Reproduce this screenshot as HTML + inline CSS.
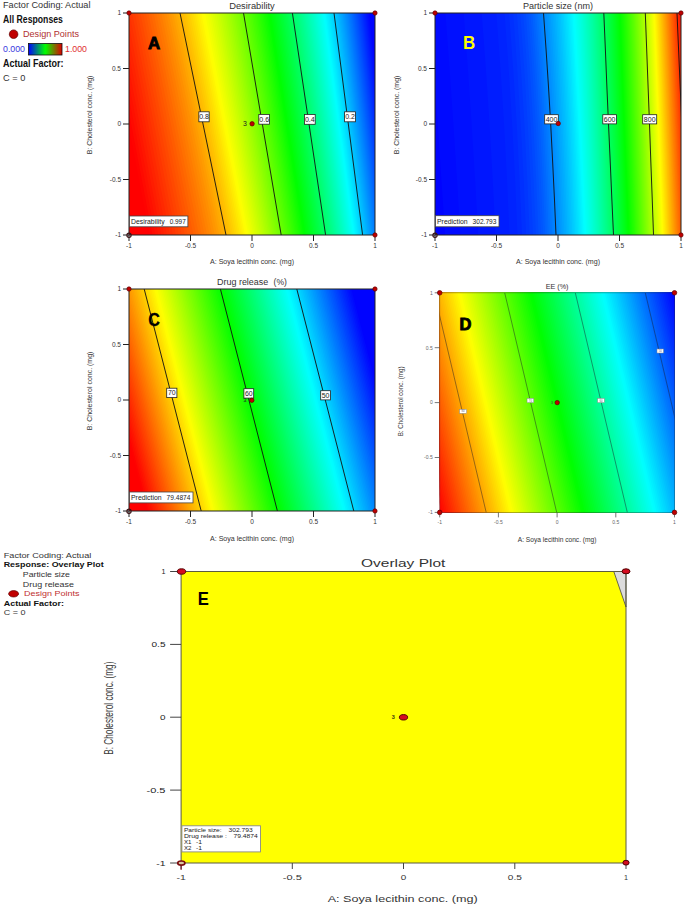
<!DOCTYPE html>
<html><head><meta charset="utf-8"><title>Contour plots</title>
<style>html,body{margin:0;padding:0;background:#fff;}svg{display:block;}text{font-family:"Liberation Sans",sans-serif;}</style>
</head><body>
<svg width="685" height="908" viewBox="0 0 685 908">
<rect width="685" height="908" fill="#fff"/>
<defs><linearGradient id="lg" x1="0" x2="1" y1="0" y2="0"><stop offset="0" stop-color="#0000ff"/><stop offset="0.5" stop-color="#00ff00"/><stop offset="1" stop-color="#e00000"/></linearGradient></defs>
<text x="3" y="7.5" font-size="9" text-anchor="start" fill="#333" textLength="87.5" lengthAdjust="spacingAndGlyphs" >Factor Coding: Actual</text>
<text x="3.1" y="23.2" font-size="10" text-anchor="start" fill="#111" font-weight="bold" textLength="59.8" lengthAdjust="spacingAndGlyphs" >All Responses</text>
<ellipse cx="13.6" cy="34.2" rx="4.3" ry="4.3" fill="#c00000" stroke="#600000" stroke-width="0.7"/>
<text x="23" y="37.3" font-size="9" text-anchor="start" fill="#b03030" textLength="56" lengthAdjust="spacingAndGlyphs" >Design Points</text>
<text x="3" y="52" font-size="8.5" text-anchor="start" fill="#3838e0" textLength="22" lengthAdjust="spacingAndGlyphs" >0.000</text>
<rect x="28.5" y="43.5" width="33.5" height="11.5" fill="url(#lg)" stroke="#111" stroke-width="0.8"/>
<text x="65" y="52" font-size="8.5" text-anchor="start" fill="#e03030" textLength="22" lengthAdjust="spacingAndGlyphs" >1.000</text>
<text x="3.1" y="67.4" font-size="10" text-anchor="start" fill="#111" font-weight="bold" textLength="60.5" lengthAdjust="spacingAndGlyphs" >Actual Factor:</text>
<text x="3" y="81.3" font-size="9" text-anchor="start" fill="#333" textLength="22.3" lengthAdjust="spacingAndGlyphs" >C = 0</text>
<clipPath id="cpA"><rect x="129" y="13" width="246" height="222"/></clipPath>
<g clip-path="url(#cpA)">
<rect x="129" y="13" width="246" height="222" fill="#ff0000"/>
<path d="M106.9 12L117.7 68L128.4 124L139.1 180L149.9 236L378 236L378 12Z" fill="#ff0300"/>
<path d="M109.7 12L120.4 68L131.2 124L141.9 180L152.6 236L378 236L378 12Z" fill="#ff0a00"/>
<path d="M112.5 12L123.2 68L134 124L144.7 180L155.5 236L378 236L378 12Z" fill="#ff1000"/>
<path d="M115.3 12L126 68L136.8 124L147.6 180L158.4 236L378 236L378 12Z" fill="#ff1600"/>
<path d="M118 12L128.8 68L139.6 124L150.4 180L161.3 236L378 236L378 12Z" fill="#ff1d00"/>
<path d="M120.8 12L131.7 68L142.5 124L153.3 180L164.2 236L378 236L378 12Z" fill="#ff2300"/>
<path d="M123.6 12L134.5 68L145.4 124L156.2 180L167.1 236L378 236L378 12Z" fill="#ff2900"/>
<path d="M126.4 12L137.3 68L148.2 124L159.2 180L170.1 236L378 236L378 12Z" fill="#ff3000"/>
<path d="M129.2 12L140.1 68L151.1 124L162.1 180L173 236L378 236L378 12Z" fill="#ff3600"/>
<path d="M131.9 12L142.9 68L154 124L165 180L176 236L378 236L378 12Z" fill="#ff3d00"/>
<path d="M134.7 12L145.7 68L156.8 124L167.9 180L179 236L378 236L378 12Z" fill="#ff4300"/>
<path d="M137.4 12L148.5 68L159.7 124L170.8 180L181.9 236L378 236L378 12Z" fill="#ff4900"/>
<path d="M140.1 12L151.3 68L162.5 124L173.7 180L184.9 236L378 236L378 12Z" fill="#ff5000"/>
<path d="M142.8 12L154.1 68L165.3 124L176.6 180L187.8 236L378 236L378 12Z" fill="#ff5600"/>
<path d="M145.5 12L156.8 68L168.1 124L179.4 180L190.7 236L378 236L378 12Z" fill="#ff5c00"/>
<path d="M148.1 12L159.5 68L170.9 124L182.2 180L193.6 236L378 236L378 12Z" fill="#ff6300"/>
<path d="M150.8 12L162.2 68L173.6 124L185 180L196.4 236L378 236L378 12Z" fill="#ff6900"/>
<path d="M153.4 12L164.8 68L176.3 124L187.8 180L199.2 236L378 236L378 12Z" fill="#ff7000"/>
<path d="M155.9 12L167.4 68L179 124L190.5 180L202 236L378 236L378 12Z" fill="#ff7600"/>
<path d="M158.5 12L170 68L181.6 124L193.1 180L204.7 236L378 236L378 12Z" fill="#ff7c00"/>
<path d="M161 12L172.6 68L184.2 124L195.7 180L207.3 236L378 236L378 12Z" fill="#ff8300"/>
<path d="M163.4 12L175.1 68L186.7 124L198.3 180L209.9 236L378 236L378 12Z" fill="#ff8900"/>
<path d="M165.9 12L177.5 68L189.1 124L200.8 180L212.4 236L378 236L378 12Z" fill="#ff8f00"/>
<path d="M168.2 12L179.9 68L191.6 124L203.2 180L214.9 236L378 236L378 12Z" fill="#ff9600"/>
<path d="M170.6 12L182.2 68L193.9 124L205.6 180L217.3 236L378 236L378 12Z" fill="#ff9c00"/>
<path d="M172.9 12L184.5 68L196.2 124L207.9 180L219.5 236L378 236L378 12Z" fill="#ffa300"/>
<path d="M175.1 12L186.8 68L198.4 124L210.1 180L221.7 236L378 236L378 12Z" fill="#ffa900"/>
<path d="M177.3 12L188.9 68L200.6 124L212.2 180L223.8 236L378 236L378 12Z" fill="#ffaf00"/>
<path d="M179.4 12L191 68L202.6 124L214.2 180L225.9 236L378 236L378 12Z" fill="#ffb600"/>
<path d="M181.5 12L193.1 68L204.6 124L216.2 180L227.8 236L378 236L378 12Z" fill="#ffbc00"/>
<path d="M183.6 12L195.1 68L206.6 124L218.1 180L229.7 236L378 236L378 12Z" fill="#ffc200"/>
<path d="M185.6 12L197.1 68L208.6 124L220 180L231.5 236L378 236L378 12Z" fill="#ffc900"/>
<path d="M187.6 12L199 68L210.5 124L221.9 180L233.3 236L378 236L378 12Z" fill="#ffcf00"/>
<path d="M189.6 12L201 68L212.4 124L223.7 180L235.1 236L378 236L378 12Z" fill="#ffd600"/>
<path d="M191.6 12L202.9 68L214.2 124L225.5 180L236.9 236L378 236L378 12Z" fill="#ffdc00"/>
<path d="M193.5 12L204.8 68L216.1 124L227.3 180L238.6 236L378 236L378 12Z" fill="#ffe200"/>
<path d="M195.4 12L206.6 68L217.9 124L229.1 180L240.3 236L378 236L378 12Z" fill="#ffe900"/>
<path d="M197.3 12L208.5 68L219.6 124L230.8 180L242 236L378 236L378 12Z" fill="#ffef00"/>
<path d="M199.2 12L210.3 68L221.4 124L232.5 180L243.6 236L378 236L378 12Z" fill="#fff500"/>
<path d="M201.1 12L212.1 68L223.1 124L234.2 180L245.2 236L378 236L378 12Z" fill="#fffc00"/>
<path d="M202.9 12L213.9 68L224.9 124L235.8 180L246.8 236L378 236L378 12Z" fill="#fcff00"/>
<path d="M204.8 12L215.8 68L226.7 124L237.6 180L248.5 236L378 236L378 12Z" fill="#f5ff00"/>
<path d="M206.8 12L217.6 68L228.4 124L239.3 180L250.1 236L378 236L378 12Z" fill="#efff00"/>
<path d="M208.7 12L219.4 68L230.2 124L241 180L251.8 236L378 236L378 12Z" fill="#e9ff00"/>
<path d="M210.5 12L221.2 68L231.9 124L242.7 180L253.4 236L378 236L378 12Z" fill="#e2ff00"/>
<path d="M212.4 12L223 68L233.7 124L244.3 180L254.9 236L378 236L378 12Z" fill="#dcff00"/>
<path d="M214.2 12L224.8 68L235.4 124L245.9 180L256.5 236L378 236L378 12Z" fill="#d6ff00"/>
<path d="M216.1 12L226.6 68L237.1 124L247.5 180L258 236L378 236L378 12Z" fill="#cfff00"/>
<path d="M217.9 12L228.3 68L238.7 124L249.1 180L259.6 236L378 236L378 12Z" fill="#c9ff00"/>
<path d="M219.7 12L230 68L240.4 124L250.7 180L261.1 236L378 236L378 12Z" fill="#c2ff00"/>
<path d="M221.4 12L231.7 68L242 124L252.3 180L262.6 236L378 236L378 12Z" fill="#bcff00"/>
<path d="M223.2 12L233.4 68L243.6 124L253.8 180L264.1 236L378 236L378 12Z" fill="#b6ff00"/>
<path d="M225 12L235.1 68L245.2 124L255.4 180L265.5 236L378 236L378 12Z" fill="#afff00"/>
<path d="M226.7 12L236.8 68L246.8 124L256.9 180L267 236L378 236L378 12Z" fill="#a9ff00"/>
<path d="M228.4 12L238.4 68L248.4 124L258.4 180L268.5 236L378 236L378 12Z" fill="#a3ff00"/>
<path d="M230.1 12L240.1 68L250 124L260 180L269.9 236L378 236L378 12Z" fill="#9cff00"/>
<path d="M231.8 12L241.7 68L251.6 124L261.5 180L271.3 236L378 236L378 12Z" fill="#96ff00"/>
<path d="M233.5 12L243.3 68L253.1 124L263 180L272.8 236L378 236L378 12Z" fill="#8fff00"/>
<path d="M235.1 12L244.9 68L254.7 124L264.4 180L274.2 236L378 236L378 12Z" fill="#89ff00"/>
<path d="M236.8 12L246.5 68L256.2 124L265.9 180L275.7 236L378 236L378 12Z" fill="#83ff00"/>
<path d="M238.5 12L248.1 68L257.8 124L267.4 180L277.1 236L378 236L378 12Z" fill="#7cff00"/>
<path d="M240.1 12L249.7 68L259.3 124L268.9 180L278.5 236L378 236L378 12Z" fill="#76ff00"/>
<path d="M241.7 12L251.3 68L260.8 124L270.4 180L280 236L378 236L378 12Z" fill="#70ff00"/>
<path d="M243.4 12L252.9 68L262.4 124L271.9 180L281.4 236L378 236L378 12Z" fill="#69ff00"/>
<path d="M245 12L254.4 68L263.9 124L273.4 180L282.8 236L378 236L378 12Z" fill="#63ff00"/>
<path d="M246.6 12L256 68L265.4 124L274.8 180L284.3 236L378 236L378 12Z" fill="#5cff00"/>
<path d="M248.2 12L257.5 68L266.9 124L276.3 180L285.7 236L378 236L378 12Z" fill="#56ff00"/>
<path d="M249.7 12L259.1 68L268.4 124L277.8 180L287.1 236L378 236L378 12Z" fill="#50ff00"/>
<path d="M251.3 12L260.6 68L269.9 124L279.2 180L288.5 236L378 236L378 12Z" fill="#49ff00"/>
<path d="M252.8 12L262.1 68L271.4 124L280.6 180L289.9 236L378 236L378 12Z" fill="#43ff00"/>
<path d="M254.4 12L263.6 68L272.8 124L282.1 180L291.3 236L378 236L378 12Z" fill="#3dff00"/>
<path d="M255.9 12L265.1 68L274.3 124L283.5 180L292.7 236L378 236L378 12Z" fill="#36ff00"/>
<path d="M257.4 12L266.6 68L275.7 124L284.9 180L294 236L378 236L378 12Z" fill="#30ff00"/>
<path d="M258.9 12L268 68L277.1 124L286.3 180L295.4 236L378 236L378 12Z" fill="#29ff00"/>
<path d="M260.4 12L269.5 68L278.6 124L287.6 180L296.7 236L378 236L378 12Z" fill="#23ff00"/>
<path d="M261.9 12L270.9 68L280 124L289 180L298.1 236L378 236L378 12Z" fill="#1dff00"/>
<path d="M263.3 12L272.3 68L281.4 124L290.4 180L299.4 236L378 236L378 12Z" fill="#16ff00"/>
<path d="M264.8 12L273.8 68L282.8 124L291.7 180L300.7 236L378 236L378 12Z" fill="#10ff00"/>
<path d="M266.2 12L275.2 68L284.1 124L293.1 180L302.1 236L378 236L378 12Z" fill="#0aff00"/>
<path d="M267.7 12L276.6 68L285.5 124L294.4 180L303.4 236L378 236L378 12Z" fill="#03ff00"/>
<path d="M269.1 12L278 68L286.9 124L295.8 180L304.7 236L378 236L378 12Z" fill="#00ff03"/>
<path d="M270.6 12L279.4 68L288.3 124L297.2 180L306 236L378 236L378 12Z" fill="#00ff0a"/>
<path d="M272.1 12L280.9 68L289.7 124L298.6 180L307.4 236L378 236L378 12Z" fill="#00ff10"/>
<path d="M273.6 12L282.4 68L291.2 124L300 180L308.8 236L378 236L378 12Z" fill="#00ff16"/>
<path d="M275 12L283.8 68L292.6 124L301.4 180L310.1 236L378 236L378 12Z" fill="#00ff1d"/>
<path d="M276.5 12L285.2 68L294 124L302.7 180L311.5 236L378 236L378 12Z" fill="#00ff23"/>
<path d="M278 12L286.7 68L295.4 124L304.1 180L312.8 236L378 236L378 12Z" fill="#00ff29"/>
<path d="M279.4 12L288.1 68L296.8 124L305.5 180L314.1 236L378 236L378 12Z" fill="#00ff30"/>
<path d="M280.9 12L289.5 68L298.2 124L306.8 180L315.4 236L378 236L378 12Z" fill="#00ff36"/>
<path d="M282.3 12L290.9 68L299.5 124L308.1 180L316.8 236L378 236L378 12Z" fill="#00ff3d"/>
<path d="M283.7 12L292.3 68L300.9 124L309.5 180L318.1 236L378 236L378 12Z" fill="#00ff43"/>
<path d="M285.2 12L293.7 68L302.3 124L310.8 180L319.4 236L378 236L378 12Z" fill="#00ff49"/>
<path d="M286.6 12L295.1 68L303.6 124L312.1 180L320.7 236L378 236L378 12Z" fill="#00ff50"/>
<path d="M288 12L296.5 68L305 124L313.5 180L321.9 236L378 236L378 12Z" fill="#00ff56"/>
<path d="M289.4 12L297.9 68L306.3 124L314.8 180L323.2 236L378 236L378 12Z" fill="#00ff5c"/>
<path d="M290.8 12L299.3 68L307.7 124L316.1 180L324.5 236L378 236L378 12Z" fill="#00ff63"/>
<path d="M292.3 12L300.6 68L309 124L317.4 180L325.7 236L378 236L378 12Z" fill="#00ff69"/>
<path d="M293.7 12L302 68L310.3 124L318.7 180L327 236L378 236L378 12Z" fill="#00ff70"/>
<path d="M295 12L303.3 68L311.7 124L320 180L328.3 236L378 236L378 12Z" fill="#00ff76"/>
<path d="M296.4 12L304.7 68L313 124L321.2 180L329.5 236L378 236L378 12Z" fill="#00ff7c"/>
<path d="M297.8 12L306 68L314.3 124L322.5 180L330.7 236L378 236L378 12Z" fill="#00ff83"/>
<path d="M299.2 12L307.4 68L315.6 124L323.8 180L332 236L378 236L378 12Z" fill="#00ff89"/>
<path d="M300.6 12L308.7 68L316.9 124L325 180L333.2 236L378 236L378 12Z" fill="#00ff8f"/>
<path d="M301.9 12L310 68L318.2 124L326.3 180L334.4 236L378 236L378 12Z" fill="#00ff96"/>
<path d="M303.3 12L311.4 68L319.4 124L327.5 180L335.6 236L378 236L378 12Z" fill="#00ff9c"/>
<path d="M304.6 12L312.7 68L320.7 124L328.8 180L336.8 236L378 236L378 12Z" fill="#00ffa3"/>
<path d="M306 12L314 68L322 124L330 180L338 236L378 236L378 12Z" fill="#00ffa9"/>
<path d="M307.3 12L315.3 68L323.2 124L331.2 180L339.2 236L378 236L378 12Z" fill="#00ffaf"/>
<path d="M308.6 12L316.6 68L324.5 124L332.4 180L340.4 236L378 236L378 12Z" fill="#00ffb6"/>
<path d="M309.9 12L317.8 68L325.7 124L333.6 180L341.6 236L378 236L378 12Z" fill="#00ffbc"/>
<path d="M311.2 12L319.1 68L327 124L334.9 180L342.7 236L378 236L378 12Z" fill="#00ffc2"/>
<path d="M312.6 12L320.4 68L328.2 124L336.1 180L343.9 236L378 236L378 12Z" fill="#00ffc9"/>
<path d="M313.9 12L321.7 68L329.4 124L337.2 180L345 236L378 236L378 12Z" fill="#00ffcf"/>
<path d="M315.2 12L322.9 68L330.7 124L338.4 180L346.2 236L378 236L378 12Z" fill="#00ffd6"/>
<path d="M316.4 12L324.2 68L331.9 124L339.6 180L347.3 236L378 236L378 12Z" fill="#00ffdc"/>
<path d="M317.7 12L325.4 68L333.1 124L340.8 180L348.5 236L378 236L378 12Z" fill="#00ffe2"/>
<path d="M319 12L326.6 68L334.3 124L342 180L349.6 236L378 236L378 12Z" fill="#00ffe9"/>
<path d="M320.3 12L327.9 68L335.5 124L343.1 180L350.7 236L378 236L378 12Z" fill="#00ffef"/>
<path d="M321.5 12L329.1 68L336.7 124L344.3 180L351.8 236L378 236L378 12Z" fill="#00fff5"/>
<path d="M322.8 12L330.3 68L337.9 124L345.4 180L353 236L378 236L378 12Z" fill="#00fffc"/>
<path d="M324 12L331.6 68L339.1 124L346.6 180L354.1 236L378 236L378 12Z" fill="#00fcff"/>
<path d="M325.3 12L332.8 68L340.2 124L347.7 180L355.2 236L378 236L378 12Z" fill="#00f5ff"/>
<path d="M326.5 12L334 68L341.4 124L348.8 180L356.3 236L378 236L378 12Z" fill="#00efff"/>
<path d="M327.8 12L335.2 68L342.6 124L350 180L357.4 236L378 236L378 12Z" fill="#00e9ff"/>
<path d="M329 12L336.4 68L343.7 124L351.1 180L358.4 236L378 236L378 12Z" fill="#00e2ff"/>
<path d="M330.2 12L337.6 68L344.9 124L352.2 180L359.5 236L378 236L378 12Z" fill="#00dcff"/>
<path d="M331.4 12L338.7 68L346 124L353.3 180L360.6 236L378 236L378 12Z" fill="#00d6ff"/>
<path d="M332.7 12L339.9 68L347.2 124L354.4 180L361.7 236L378 236L378 12Z" fill="#00cfff"/>
<path d="M333.9 12L341.1 68L348.3 124L355.5 180L362.7 236L378 236L378 12Z" fill="#00c9ff"/>
<path d="M335.1 12L342.3 68L349.4 124L356.6 180L363.8 236L378 236L378 12Z" fill="#00c2ff"/>
<path d="M336.3 12L343.4 68L350.6 124L357.7 180L364.8 236L378 236L378 12Z" fill="#00bcff"/>
<path d="M337.5 12L344.6 68L351.7 124L358.8 180L365.9 236L378 236L378 12Z" fill="#00b6ff"/>
<path d="M338.7 12L345.7 68L352.8 124L359.9 180L366.9 236L378 236L378 12Z" fill="#00afff"/>
<path d="M339.9 12L346.9 68L353.9 124L360.9 180L368 236L378 236L378 12Z" fill="#00a9ff"/>
<path d="M341 12L348 68L355 124L362 180L369 236L378 236L378 12Z" fill="#00a3ff"/>
<path d="M342.2 12L349.2 68L356.1 124L363.1 180L370 236L378 236L378 12Z" fill="#009cff"/>
<path d="M343.4 12L350.3 68L357.2 124L364.2 180L371.1 236L378 236L378 12Z" fill="#0096ff"/>
<path d="M344.6 12L351.4 68L358.3 124L365.2 180L372.1 236L378 236L378 12Z" fill="#008fff"/>
<path d="M345.7 12L352.6 68L359.4 124L366.3 180L373.1 236L378 236L378 12Z" fill="#0089ff"/>
<path d="M346.9 12L353.7 68L360.5 124L367.3 180L374.1 236L378 236L378 12Z" fill="#0083ff"/>
<path d="M348 12L354.8 68L361.6 124L368.4 180L375.1 236L378 236L378 12Z" fill="#007cff"/>
<path d="M349.2 12L355.9 68L362.7 124L369.4 180L376.1 236L378 236L378 12Z" fill="#0076ff"/>
<path d="M350.3 12L357 68L363.7 124L370.4 180L377.1 236L378 236L378 12Z" fill="#0070ff"/>
<path d="M351.5 12L358.1 68L364.8 124L371.5 180L378.1 236L378 236L378 12Z" fill="#0069ff"/>
<path d="M352.6 12L359.2 68L365.9 124L372.5 180L379.1 236L378 236L378 12Z" fill="#0063ff"/>
<path d="M353.7 12L360.3 68L366.9 124L373.5 180L380.1 236L378 236L378 12Z" fill="#005cff"/>
<path d="M354.9 12L361.4 68L368 124L374.5 180L381.1 236L378 236L378 12Z" fill="#0056ff"/>
<path d="M356 12L362.5 68L369 124L375.5 180L382 236L378 236L378 12Z" fill="#0050ff"/>
<path d="M357.1 12L363.6 68L370 124L376.5 180L383 236L378 236L378 12Z" fill="#0049ff"/>
<path d="M358.2 12L364.6 68L371.1 124L377.5 180L384 236L378 236L378 12Z" fill="#0043ff"/>
<path d="M359.3 12L365.7 68L372.1 124L378.5 180L384.9 236L378 236L378 12Z" fill="#003dff"/>
<path d="M360.4 12L366.8 68L373.1 124L379.5 180L385.9 236L378 236L378 12Z" fill="#0036ff"/>
<path d="M361.5 12L367.8 68L374.1 124L380.5 180L386.8 236L378 236L378 12Z" fill="#0030ff"/>
<path d="M362.5 12L368.8 68L375.1 124L381.4 180L387.7 236L378 236L378 12Z" fill="#0029ff"/>
<path d="M363.6 12L369.9 68L376.1 124L382.4 180L388.7 236L378 236L378 12Z" fill="#0023ff"/>
<path d="M364.7 12L370.9 68L377.1 124L383.4 180L389.6 236L378 236L378 12Z" fill="#001dff"/>
<path d="M365.7 12L371.9 68L378.1 124L384.3 180L390.5 236L378 236L378 12Z" fill="#0016ff"/>
<path d="M366.8 12L372.9 68L379.1 124L385.3 180L391.4 236L378 236L378 12Z" fill="#0010ff"/>
<path d="M367.8 12L374 68L380.1 124L386.2 180L392.3 236L378 236L378 12Z" fill="#000aff"/>
<path d="M368.9 12L375 68L381 124L387.1 180L393.2 236L378 236L378 12Z" fill="#0003ff"/>
</g>
<path d="M180 13L226 235" fill="none" stroke="#111" stroke-width="0.9" clip-path="url(#cpA)"/>
<path d="M243.5 13L281.2 235" fill="none" stroke="#111" stroke-width="0.9" clip-path="url(#cpA)"/>
<path d="M292.4 13L325.6 235" fill="none" stroke="#111" stroke-width="0.9" clip-path="url(#cpA)"/>
<path d="M334 13L362.6 235" fill="none" stroke="#111" stroke-width="0.9" clip-path="url(#cpA)"/>
<rect x="129" y="13" width="246" height="222" fill="none" stroke="#222" stroke-opacity="1" stroke-width="1"/>
<line x1="129.0" y1="235" x2="129.0" y2="241" stroke="#222" stroke-width="1"/>
<text x="129" y="248.3" font-size="6.5" text-anchor="middle" fill="#333" >-1</text>
<line x1="123" y1="235.0" x2="129" y2="235.0" stroke="#222" stroke-width="1"/>
<text x="121" y="237.3" font-size="6.5" text-anchor="end" fill="#333" >-1</text>
<line x1="190.5" y1="235" x2="190.5" y2="241" stroke="#222" stroke-width="1"/>
<text x="190.5" y="248.3" font-size="6.5" text-anchor="middle" fill="#333" >-0.5</text>
<line x1="123" y1="179.5" x2="129" y2="179.5" stroke="#222" stroke-width="1"/>
<text x="121" y="181.8" font-size="6.5" text-anchor="end" fill="#333" >-0.5</text>
<line x1="252.0" y1="235" x2="252.0" y2="241" stroke="#222" stroke-width="1"/>
<text x="252" y="248.3" font-size="6.5" text-anchor="middle" fill="#333" >0</text>
<line x1="123" y1="124.0" x2="129" y2="124.0" stroke="#222" stroke-width="1"/>
<text x="121" y="126.3" font-size="6.5" text-anchor="end" fill="#333" >0</text>
<line x1="313.5" y1="235" x2="313.5" y2="241" stroke="#222" stroke-width="1"/>
<text x="313.5" y="248.3" font-size="6.5" text-anchor="middle" fill="#333" >0.5</text>
<line x1="123" y1="68.5" x2="129" y2="68.5" stroke="#222" stroke-width="1"/>
<text x="121" y="70.8" font-size="6.5" text-anchor="end" fill="#333" >0.5</text>
<line x1="375.0" y1="235" x2="375.0" y2="241" stroke="#222" stroke-width="1"/>
<text x="375" y="248.3" font-size="6.5" text-anchor="middle" fill="#333" >1</text>
<line x1="123" y1="13.0" x2="129" y2="13.0" stroke="#222" stroke-width="1"/>
<text x="121" y="15.3" font-size="6.5" text-anchor="end" fill="#333" >1</text>
<text x="252" y="264.2" font-size="7.5" text-anchor="middle" fill="#333" textLength="84" lengthAdjust="spacingAndGlyphs" >A: Soya lecithin conc. (mg)</text>
<g transform="translate(91.8,115) rotate(-90)">
<text x="0" y="0" font-size="7.5" text-anchor="middle" fill="#333" textLength="78.7" lengthAdjust="spacingAndGlyphs" >B: Cholesterol conc. (mg)</text>
</g>
<text x="252" y="8.5" font-size="8.5" text-anchor="middle" fill="#333" textLength="45.6" lengthAdjust="spacingAndGlyphs" >Desirability</text>
<rect x="198.85" y="111.8" width="10.3" height="10" fill="#fff" stroke="#222" stroke-width="0.8"/>
<text x="204" y="119.32" font-size="7" text-anchor="middle" fill="#222" >0.8</text>
<rect x="258.8" y="114.39999999999999" width="10.8" height="9.8" fill="#fff" stroke="#222" stroke-width="0.8"/>
<text x="264.2" y="121.82" font-size="7" text-anchor="middle" fill="#222" >0.6</text>
<rect x="304.40000000000003" y="114.5" width="10.8" height="9.8" fill="#fff" stroke="#222" stroke-width="0.8"/>
<text x="309.8" y="121.92" font-size="7" text-anchor="middle" fill="#222" >0.4</text>
<rect x="344.6" y="111.8" width="10.8" height="10" fill="#fff" stroke="#222" stroke-width="0.8"/>
<text x="350" y="119.32" font-size="7" text-anchor="middle" fill="#222" >0.2</text>
<ellipse cx="129" cy="13" rx="2.15" ry="2.15" fill="#c00000" stroke="#600000" stroke-width="0.7"/>
<ellipse cx="375" cy="13" rx="2.15" ry="2.15" fill="#c00000" stroke="#600000" stroke-width="0.7"/>
<ellipse cx="375" cy="235" rx="2.15" ry="2.15" fill="#c00000" stroke="#600000" stroke-width="0.7"/>
<ellipse cx="252.1" cy="123.8" rx="2.2" ry="2.2" fill="#c00000" stroke="#600000" stroke-width="0.7"/>
<text x="246.8" y="126.2" font-size="7" text-anchor="end" fill="#222" >3</text>
<rect x="129.5" y="216" width="58.4" height="10.8" fill="#fff" stroke="#444" stroke-width="0.8"/>
<text x="131" y="224.2" font-size="7.3" text-anchor="start" fill="#222" textLength="33.6" lengthAdjust="spacingAndGlyphs" >Desirability</text>
<text x="169.7" y="224.2" font-size="7.3" text-anchor="start" fill="#222" textLength="16" lengthAdjust="spacingAndGlyphs" >0.997</text>
<circle cx="129" cy="235.2" r="2.1" fill="none" stroke="#3a1518" stroke-width="1.2"/>
<text x="147.9" y="48.6" font-size="16.8" text-anchor="start" fill="#000" font-weight="bold" stroke="#000" stroke-width="0.9">A</text>
<clipPath id="cpB"><rect x="435" y="13" width="246" height="222"/></clipPath>
<g clip-path="url(#cpB)">
<rect x="435" y="13" width="246" height="222" fill="#0000ff"/>
<path d="M419.9 12L423.8 68L427.6 124L431.4 180L435.1 236L684 236L684 12Z" fill="#0003ff"/>
<path d="M429.8 12L433.8 68L437.7 124L441.4 180L445.1 236L684 236L684 12Z" fill="#000aff"/>
<path d="M445.3 12L449.5 68L453.3 124L457 180L460.4 236L684 236L684 12Z" fill="#0010ff"/>
<path d="M463.6 12L467.8 68L471.6 124L475.1 180L478.2 236L684 236L684 12Z" fill="#0016ff"/>
<path d="M481.6 12L485.8 68L489.5 124L492.7 180L495.5 236L684 236L684 12Z" fill="#001dff"/>
<path d="M496.2 12L500.4 68L504 124L507 180L509.5 236L684 236L684 12Z" fill="#0023ff"/>
<path d="M504.4 12L508.6 68L512.1 124L515.1 180L517.5 236L684 236L684 12Z" fill="#0029ff"/>
<path d="M509 12L513.1 68L516.7 124L519.6 180L522 236L684 236L684 12Z" fill="#0030ff"/>
<path d="M513.1 12L517.2 68L520.7 124L523.7 180L526.1 236L684 236L684 12Z" fill="#0036ff"/>
<path d="M516.8 12L520.9 68L524.4 124L527.3 180L529.7 236L684 236L684 12Z" fill="#003dff"/>
<path d="M520.1 12L524.2 68L527.7 124L530.6 180L533 236L684 236L684 12Z" fill="#0043ff"/>
<path d="M523.1 12L527.1 68L530.6 124L533.6 180L535.9 236L684 236L684 12Z" fill="#0049ff"/>
<path d="M525.7 12L529.8 68L533.3 124L536.2 180L538.6 236L684 236L684 12Z" fill="#0050ff"/>
<path d="M528.1 12L532.2 68L535.6 124L538.6 180L541 236L684 236L684 12Z" fill="#0056ff"/>
<path d="M530.3 12L534.3 68L537.8 124L540.8 180L543.2 236L684 236L684 12Z" fill="#005cff"/>
<path d="M532.3 12L536.3 68L539.8 124L542.8 180L545.2 236L684 236L684 12Z" fill="#0063ff"/>
<path d="M534.2 12L538.2 68L541.7 124L544.6 180L547 236L684 236L684 12Z" fill="#0069ff"/>
<path d="M536 12L540 68L543.4 124L546.4 180L548.8 236L684 236L684 12Z" fill="#0070ff"/>
<path d="M537.8 12L541.7 68L545.1 124L548.1 180L550.5 236L684 236L684 12Z" fill="#0076ff"/>
<path d="M539.5 12L543.4 68L546.8 124L549.8 180L552.2 236L684 236L684 12Z" fill="#007cff"/>
<path d="M541.2 12L545.1 68L548.5 124L551.5 180L553.9 236L684 236L684 12Z" fill="#0083ff"/>
<path d="M543 12L546.9 68L550.3 124L553.2 180L555.7 236L684 236L684 12Z" fill="#0089ff"/>
<path d="M544.9 12L548.7 68L552.1 124L555 180L557.5 236L684 236L684 12Z" fill="#008fff"/>
<path d="M546.8 12L550.6 68L553.9 124L556.8 180L559.3 236L684 236L684 12Z" fill="#0096ff"/>
<path d="M548.6 12L552.3 68L555.7 124L558.6 180L561 236L684 236L684 12Z" fill="#009cff"/>
<path d="M550.4 12L554.1 68L557.4 124L560.3 180L562.7 236L684 236L684 12Z" fill="#00a3ff"/>
<path d="M552.1 12L555.8 68L559.1 124L561.9 180L564.4 236L684 236L684 12Z" fill="#00a9ff"/>
<path d="M553.8 12L557.5 68L560.7 124L563.6 180L566.1 236L684 236L684 12Z" fill="#00afff"/>
<path d="M555.5 12L559.1 68L562.3 124L565.2 180L567.7 236L684 236L684 12Z" fill="#00b6ff"/>
<path d="M557.2 12L560.7 68L563.9 124L566.8 180L569.3 236L684 236L684 12Z" fill="#00bcff"/>
<path d="M558.8 12L562.3 68L565.5 124L568.3 180L570.8 236L684 236L684 12Z" fill="#00c2ff"/>
<path d="M560.4 12L563.9 68L567 124L569.9 180L572.4 236L684 236L684 12Z" fill="#00c9ff"/>
<path d="M562 12L565.4 68L568.6 124L571.4 180L573.9 236L684 236L684 12Z" fill="#00cfff"/>
<path d="M563.5 12L566.9 68L570 124L572.8 180L575.3 236L684 236L684 12Z" fill="#00d6ff"/>
<path d="M565 12L568.4 68L571.5 124L574.3 180L576.8 236L684 236L684 12Z" fill="#00dcff"/>
<path d="M566.5 12L569.9 68L572.9 124L575.7 180L578.2 236L684 236L684 12Z" fill="#00e2ff"/>
<path d="M568 12L571.3 68L574.3 124L577.1 180L579.6 236L684 236L684 12Z" fill="#00e9ff"/>
<path d="M569.5 12L572.7 68L575.7 124L578.5 180L581 236L684 236L684 12Z" fill="#00efff"/>
<path d="M570.9 12L574.1 68L577.1 124L579.8 180L582.3 236L684 236L684 12Z" fill="#00f5ff"/>
<path d="M572.3 12L575.4 68L578.4 124L581.1 180L583.7 236L684 236L684 12Z" fill="#00fcff"/>
<path d="M573.7 12L576.8 68L579.7 124L582.5 180L585 236L684 236L684 12Z" fill="#00fffc"/>
<path d="M575 12L578.1 68L581 124L583.7 180L586.3 236L684 236L684 12Z" fill="#00fff5"/>
<path d="M576.4 12L579.4 68L582.3 124L585 180L587.6 236L684 236L684 12Z" fill="#00ffef"/>
<path d="M577.7 12L580.7 68L583.6 124L586.3 180L588.8 236L684 236L684 12Z" fill="#00ffe9"/>
<path d="M579 12L582 68L584.8 124L587.5 180L590.1 236L684 236L684 12Z" fill="#00ffe2"/>
<path d="M580.3 12L583.2 68L586 124L588.7 180L591.3 236L684 236L684 12Z" fill="#00ffdc"/>
<path d="M581.6 12L584.5 68L587.3 124L589.9 180L592.5 236L684 236L684 12Z" fill="#00ffd6"/>
<path d="M582.8 12L585.7 68L588.5 124L591.1 180L593.7 236L684 236L684 12Z" fill="#00ffcf"/>
<path d="M584.1 12L586.9 68L589.6 124L592.3 180L594.9 236L684 236L684 12Z" fill="#00ffc9"/>
<path d="M585.3 12L588.1 68L590.8 124L593.5 180L596 236L684 236L684 12Z" fill="#00ffc2"/>
<path d="M586.5 12L589.3 68L592 124L594.6 180L597.2 236L684 236L684 12Z" fill="#00ffbc"/>
<path d="M587.7 12L590.5 68L593.1 124L595.7 180L598.3 236L684 236L684 12Z" fill="#00ffb6"/>
<path d="M588.9 12L591.6 68L594.3 124L596.9 180L599.4 236L684 236L684 12Z" fill="#00ffaf"/>
<path d="M590.1 12L592.8 68L595.4 124L598 180L600.6 236L684 236L684 12Z" fill="#00ffa9"/>
<path d="M591.3 12L593.9 68L596.5 124L599.1 180L601.7 236L684 236L684 12Z" fill="#00ffa3"/>
<path d="M592.5 12L595.1 68L597.6 124L600.2 180L602.8 236L684 236L684 12Z" fill="#00ff9c"/>
<path d="M593.6 12L596.2 68L598.8 124L601.3 180L603.9 236L684 236L684 12Z" fill="#00ff96"/>
<path d="M594.8 12L597.3 68L599.9 124L602.4 180L605 236L684 236L684 12Z" fill="#00ff8f"/>
<path d="M595.9 12L598.4 68L601 124L603.5 180L606.1 236L684 236L684 12Z" fill="#00ff89"/>
<path d="M597.1 12L599.6 68L602.1 124L604.6 180L607.2 236L684 236L684 12Z" fill="#00ff83"/>
<path d="M598.2 12L600.7 68L603.2 124L605.7 180L608.2 236L684 236L684 12Z" fill="#00ff7c"/>
<path d="M599.3 12L601.8 68L604.3 124L606.8 180L609.3 236L684 236L684 12Z" fill="#00ff76"/>
<path d="M600.5 12L602.9 68L605.3 124L607.8 180L610.4 236L684 236L684 12Z" fill="#00ff70"/>
<path d="M601.6 12L604 68L606.4 124L608.9 180L611.5 236L684 236L684 12Z" fill="#00ff69"/>
<path d="M602.7 12L605.1 68L607.5 124L610 180L612.6 236L684 236L684 12Z" fill="#00ff63"/>
<path d="M603.9 12L606.2 68L608.6 124L611.1 180L613.6 236L684 236L684 12Z" fill="#00ff5c"/>
<path d="M605 12L607.3 68L609.7 124L612.2 180L614.7 236L684 236L684 12Z" fill="#00ff56"/>
<path d="M606.1 12L608.4 68L610.8 124L613.3 180L615.8 236L684 236L684 12Z" fill="#00ff50"/>
<path d="M607.2 12L609.5 68L611.9 124L614.3 180L616.8 236L684 236L684 12Z" fill="#00ff49"/>
<path d="M608.3 12L610.6 68L612.9 124L615.4 180L617.9 236L684 236L684 12Z" fill="#00ff43"/>
<path d="M609.3 12L611.6 68L614 124L616.4 180L618.9 236L684 236L684 12Z" fill="#00ff3d"/>
<path d="M610.4 12L612.7 68L615 124L617.4 180L619.9 236L684 236L684 12Z" fill="#00ff36"/>
<path d="M611.5 12L613.7 68L616.1 124L618.5 180L620.9 236L684 236L684 12Z" fill="#00ff30"/>
<path d="M612.5 12L614.8 68L617.1 124L619.5 180L621.9 236L684 236L684 12Z" fill="#00ff29"/>
<path d="M613.6 12L615.8 68L618.1 124L620.5 180L622.9 236L684 236L684 12Z" fill="#00ff23"/>
<path d="M614.6 12L616.8 68L619.1 124L621.5 180L623.9 236L684 236L684 12Z" fill="#00ff1d"/>
<path d="M615.6 12L617.9 68L620.1 124L622.5 180L624.9 236L684 236L684 12Z" fill="#00ff16"/>
<path d="M616.6 12L618.9 68L621.1 124L623.5 180L625.9 236L684 236L684 12Z" fill="#00ff10"/>
<path d="M617.7 12L619.9 68L622.1 124L624.4 180L626.8 236L684 236L684 12Z" fill="#00ff0a"/>
<path d="M618.7 12L620.9 68L623.1 124L625.4 180L627.8 236L684 236L684 12Z" fill="#00ff03"/>
<path d="M619.6 12L621.8 68L624.1 124L626.4 180L628.7 236L684 236L684 12Z" fill="#03ff00"/>
<path d="M620.6 12L622.8 68L625 124L627.3 180L629.7 236L684 236L684 12Z" fill="#0aff00"/>
<path d="M621.6 12L623.8 68L626 124L628.3 180L630.6 236L684 236L684 12Z" fill="#10ff00"/>
<path d="M622.6 12L624.7 68L627 124L629.2 180L631.5 236L684 236L684 12Z" fill="#16ff00"/>
<path d="M623.5 12L625.7 68L627.9 124L630.1 180L632.4 236L684 236L684 12Z" fill="#1dff00"/>
<path d="M624.5 12L626.6 68L628.8 124L631.1 180L633.4 236L684 236L684 12Z" fill="#23ff00"/>
<path d="M625.4 12L627.6 68L629.8 124L632 180L634.3 236L684 236L684 12Z" fill="#29ff00"/>
<path d="M626.4 12L628.5 68L630.7 124L632.9 180L635.2 236L684 236L684 12Z" fill="#30ff00"/>
<path d="M627.3 12L629.4 68L631.6 124L633.8 180L636 236L684 236L684 12Z" fill="#36ff00"/>
<path d="M628.2 12L630.4 68L632.5 124L634.7 180L636.9 236L684 236L684 12Z" fill="#3dff00"/>
<path d="M629.2 12L631.3 68L633.4 124L635.6 180L637.8 236L684 236L684 12Z" fill="#43ff00"/>
<path d="M630.1 12L632.2 68L634.3 124L636.5 180L638.7 236L684 236L684 12Z" fill="#49ff00"/>
<path d="M631 12L633.1 68L635.2 124L637.4 180L639.6 236L684 236L684 12Z" fill="#50ff00"/>
<path d="M631.9 12L634 68L636.1 124L638.3 180L640.4 236L684 236L684 12Z" fill="#56ff00"/>
<path d="M632.8 12L634.9 68L637 124L639.2 180L641.3 236L684 236L684 12Z" fill="#5cff00"/>
<path d="M633.7 12L635.8 68L637.9 124L640 180L642.2 236L684 236L684 12Z" fill="#63ff00"/>
<path d="M634.5 12L636.7 68L638.8 124L640.9 180L643 236L684 236L684 12Z" fill="#69ff00"/>
<path d="M635.4 12L637.5 68L639.6 124L641.8 180L643.9 236L684 236L684 12Z" fill="#70ff00"/>
<path d="M636.3 12L638.4 68L640.5 124L642.6 180L644.7 236L684 236L684 12Z" fill="#76ff00"/>
<path d="M637.2 12L639.3 68L641.4 124L643.5 180L645.5 236L684 236L684 12Z" fill="#7cff00"/>
<path d="M638 12L640.1 68L642.2 124L644.3 180L646.4 236L684 236L684 12Z" fill="#83ff00"/>
<path d="M638.9 12L641 68L643.1 124L645.2 180L647.2 236L684 236L684 12Z" fill="#89ff00"/>
<path d="M639.7 12L641.8 68L643.9 124L646 180L648.1 236L684 236L684 12Z" fill="#8fff00"/>
<path d="M640.6 12L642.7 68L644.8 124L646.8 180L648.9 236L684 236L684 12Z" fill="#96ff00"/>
<path d="M641.4 12L643.5 68L645.6 124L647.7 180L649.7 236L684 236L684 12Z" fill="#9cff00"/>
<path d="M642.2 12L644.4 68L646.5 124L648.5 180L650.5 236L684 236L684 12Z" fill="#a3ff00"/>
<path d="M643.1 12L645.2 68L647.3 124L649.3 180L651.4 236L684 236L684 12Z" fill="#a9ff00"/>
<path d="M643.9 12L646 68L648.1 124L650.2 180L652.2 236L684 236L684 12Z" fill="#afff00"/>
<path d="M644.7 12L646.9 68L649 124L651 180L653 236L684 236L684 12Z" fill="#b6ff00"/>
<path d="M645.6 12L647.7 68L649.8 124L651.8 180L653.8 236L684 236L684 12Z" fill="#bcff00"/>
<path d="M646.4 12L648.5 68L650.6 124L652.6 180L654.7 236L684 236L684 12Z" fill="#c2ff00"/>
<path d="M647.2 12L649.3 68L651.4 124L653.5 180L655.5 236L684 236L684 12Z" fill="#c9ff00"/>
<path d="M648 12L650.1 68L652.2 124L654.3 180L656.3 236L684 236L684 12Z" fill="#cfff00"/>
<path d="M648.8 12L650.9 68L653 124L655.1 180L657.1 236L684 236L684 12Z" fill="#d6ff00"/>
<path d="M649.6 12L651.7 68L653.8 124L655.9 180L657.9 236L684 236L684 12Z" fill="#dcff00"/>
<path d="M650.3 12L652.5 68L654.6 124L656.7 180L658.7 236L684 236L684 12Z" fill="#e2ff00"/>
<path d="M651.1 12L653.3 68L655.4 124L657.4 180L659.4 236L684 236L684 12Z" fill="#e9ff00"/>
<path d="M651.9 12L654.1 68L656.2 124L658.2 180L660.2 236L684 236L684 12Z" fill="#efff00"/>
<path d="M652.6 12L654.8 68L656.9 124L659 180L661 236L684 236L684 12Z" fill="#f5ff00"/>
<path d="M653.4 12L655.6 68L657.7 124L659.8 180L661.8 236L684 236L684 12Z" fill="#fcff00"/>
<path d="M654.2 12L656.3 68L658.5 124L660.6 180L662.6 236L684 236L684 12Z" fill="#fffc00"/>
<path d="M654.9 12L657.1 68L659.2 124L661.3 180L663.3 236L684 236L684 12Z" fill="#fff500"/>
<path d="M655.6 12L657.8 68L660 124L662.1 180L664.1 236L684 236L684 12Z" fill="#ffef00"/>
<path d="M656.4 12L658.6 68L660.7 124L662.8 180L664.9 236L684 236L684 12Z" fill="#ffe900"/>
<path d="M657.1 12L659.3 68L661.5 124L663.6 180L665.6 236L684 236L684 12Z" fill="#ffe200"/>
<path d="M657.8 12L660.1 68L662.2 124L664.3 180L666.4 236L684 236L684 12Z" fill="#ffdc00"/>
<path d="M658.6 12L660.8 68L663 124L665.1 180L667.1 236L684 236L684 12Z" fill="#ffd600"/>
<path d="M659.3 12L661.5 68L663.7 124L665.8 180L667.9 236L684 236L684 12Z" fill="#ffcf00"/>
<path d="M660 12L662.3 68L664.4 124L666.6 180L668.6 236L684 236L684 12Z" fill="#ffc900"/>
<path d="M660.7 12L663 68L665.2 124L667.3 180L669.3 236L684 236L684 12Z" fill="#ffc200"/>
<path d="M661.4 12L663.7 68L665.9 124L668 180L670.1 236L684 236L684 12Z" fill="#ffbc00"/>
<path d="M662.1 12L664.4 68L666.6 124L668.8 180L670.8 236L684 236L684 12Z" fill="#ffb600"/>
<path d="M662.8 12L665.1 68L667.3 124L669.5 180L671.6 236L684 236L684 12Z" fill="#ffaf00"/>
<path d="M663.5 12L665.8 68L668.1 124L670.2 180L672.3 236L684 236L684 12Z" fill="#ffa900"/>
<path d="M664.2 12L666.5 68L668.8 124L670.9 180L673 236L684 236L684 12Z" fill="#ffa300"/>
<path d="M664.9 12L667.3 68L669.5 124L671.7 180L673.7 236L684 236L684 12Z" fill="#ff9c00"/>
<path d="M665.6 12L668 68L670.2 124L672.4 180L674.5 236L684 236L684 12Z" fill="#ff9600"/>
<path d="M666.3 12L668.7 68L670.9 124L673.1 180L675.2 236L684 236L684 12Z" fill="#ff8f00"/>
<path d="M667 12L669.4 68L671.6 124L673.8 180L675.9 236L684 236L684 12Z" fill="#ff8900"/>
<path d="M667.7 12L670.1 68L672.3 124L674.5 180L676.6 236L684 236L684 12Z" fill="#ff8300"/>
<path d="M668.4 12L670.8 68L673 124L675.2 180L677.3 236L684 236L684 12Z" fill="#ff7c00"/>
<path d="M669.1 12L671.5 68L673.8 124L675.9 180L678 236L684 236L684 12Z" fill="#ff7600"/>
<path d="M669.8 12L672.2 68L674.5 124L676.7 180L678.8 236L684 236L684 12Z" fill="#ff7000"/>
<path d="M670.5 12L672.9 68L675.2 124L677.4 180L679.5 236L684 236L684 12Z" fill="#ff6900"/>
<path d="M671.1 12L673.6 68L675.9 124L678.1 180L680.2 236L684 236L684 12Z" fill="#ff6300"/>
<path d="M671.8 12L674.3 68L676.6 124L678.8 180L680.9 236L684 236L684 12Z" fill="#ff5c00"/>
<path d="M672.5 12L675 68L677.3 124L679.5 180L681.6 236L684 236L684 12Z" fill="#ff5600"/>
<path d="M673.2 12L675.7 68L678 124L680.2 180L682.3 236L684 236L684 12Z" fill="#ff5000"/>
<path d="M673.9 12L676.4 68L678.7 124L680.9 180L683 236L684 236L684 12Z" fill="#ff4900"/>
<path d="M674.6 12L677.1 68L679.4 124L681.6 180L683.7 236L684 236L684 12Z" fill="#ff4300"/>
<path d="M675.3 12L677.8 68L680.1 124L682.3 180L684.4 236L684 236L684 12Z" fill="#ff3d00"/>
<path d="M676 12L678.5 68L680.8 124L683 180L685.1 236L684 236L684 12Z" fill="#ff3600"/>
<path d="M676.7 12L679.2 68L681.5 124L683.7 180L685.8 236L684 236L684 12Z" fill="#ff3000"/>
<path d="M677.4 12L679.9 68L682.2 124L684.4 180L686.5 236L684 236L684 12Z" fill="#ff2900"/>
<path d="M678.1 12L680.6 68L682.9 124L685.1 180L687.2 236L684 236L684 12Z" fill="#ff2300"/>
<path d="M678.8 12L681.3 68L683.6 124L685.8 180L687.9 236L684 236L684 12Z" fill="#ff1d00"/>
<path d="M679.5 12L682 68L684.3 124L686.5 180L688.6 236L684 236L684 12Z" fill="#ff1600"/>
<path d="M680.2 12L682.7 68L685 124L687.2 180L689.3 236L684 236L684 12Z" fill="#ff1000"/>
<path d="M680.9 12L683.4 68L685.7 124L687.9 180L689.9 236L684 236L684 12Z" fill="#ff0a00"/>
<path d="M681.6 12L684.1 68L686.4 124L688.6 180L690.6 236L684 236L684 12Z" fill="#ff0300"/>
</g>
<path d="M543.5 13L546.1 50L548.5 87L550.7 124L552.6 161L554.4 198L556 235" fill="none" stroke="#111" stroke-width="0.9" clip-path="url(#cpB)"/>
<path d="M603.8 13L605.4 50L606.9 87L608.5 124L610.2 161L611.8 198L613.5 235" fill="none" stroke="#111" stroke-width="0.9" clip-path="url(#cpB)"/>
<path d="M645.3 13L646.7 50L648.1 87L649.5 124L650.8 161L652.2 198L653.5 235" fill="none" stroke="#111" stroke-width="0.9" clip-path="url(#cpB)"/>
<path d="M677 13L678.6 50L680.2 87L681.8 124L683.2 161L684.6 198L686 235" fill="none" stroke="#111" stroke-width="0.9" clip-path="url(#cpB)"/>
<rect x="435" y="13" width="246" height="222" fill="none" stroke="#222" stroke-opacity="1" stroke-width="1"/>
<line x1="435.0" y1="235" x2="435.0" y2="241" stroke="#222" stroke-width="1"/>
<text x="435" y="248.3" font-size="6.5" text-anchor="middle" fill="#333" >-1</text>
<line x1="429" y1="235.0" x2="435" y2="235.0" stroke="#222" stroke-width="1"/>
<text x="427" y="237.3" font-size="6.5" text-anchor="end" fill="#333" >-1</text>
<line x1="496.5" y1="235" x2="496.5" y2="241" stroke="#222" stroke-width="1"/>
<text x="496.5" y="248.3" font-size="6.5" text-anchor="middle" fill="#333" >-0.5</text>
<line x1="429" y1="179.5" x2="435" y2="179.5" stroke="#222" stroke-width="1"/>
<text x="427" y="181.8" font-size="6.5" text-anchor="end" fill="#333" >-0.5</text>
<line x1="558.0" y1="235" x2="558.0" y2="241" stroke="#222" stroke-width="1"/>
<text x="558" y="248.3" font-size="6.5" text-anchor="middle" fill="#333" >0</text>
<line x1="429" y1="124.0" x2="435" y2="124.0" stroke="#222" stroke-width="1"/>
<text x="427" y="126.3" font-size="6.5" text-anchor="end" fill="#333" >0</text>
<line x1="619.5" y1="235" x2="619.5" y2="241" stroke="#222" stroke-width="1"/>
<text x="619.5" y="248.3" font-size="6.5" text-anchor="middle" fill="#333" >0.5</text>
<line x1="429" y1="68.5" x2="435" y2="68.5" stroke="#222" stroke-width="1"/>
<text x="427" y="70.8" font-size="6.5" text-anchor="end" fill="#333" >0.5</text>
<line x1="681.0" y1="235" x2="681.0" y2="241" stroke="#222" stroke-width="1"/>
<text x="681" y="248.3" font-size="6.5" text-anchor="middle" fill="#333" >1</text>
<line x1="429" y1="13.0" x2="435" y2="13.0" stroke="#222" stroke-width="1"/>
<text x="427" y="15.3" font-size="6.5" text-anchor="end" fill="#333" >1</text>
<text x="558" y="264.2" font-size="7.5" text-anchor="middle" fill="#333" textLength="84" lengthAdjust="spacingAndGlyphs" >A: Soya lecithin conc. (mg)</text>
<g transform="translate(398.5,115) rotate(-90)">
<text x="0" y="0" font-size="7.5" text-anchor="middle" fill="#333" textLength="78.7" lengthAdjust="spacingAndGlyphs" >B: Cholesterol conc. (mg)</text>
</g>
<text x="558" y="8.5" font-size="8.5" text-anchor="middle" fill="#333" textLength="70" lengthAdjust="spacingAndGlyphs" >Particle size (nm)</text>
<rect x="544.7" y="114.7" width="13.6" height="9.2" fill="#fff" stroke="#222" stroke-width="0.8"/>
<text x="551.5" y="121.82" font-size="7" text-anchor="middle" fill="#222" >400</text>
<rect x="602.8000000000001" y="114.7" width="13.6" height="9.2" fill="#fff" stroke="#222" stroke-width="0.8"/>
<text x="609.6" y="121.82" font-size="7" text-anchor="middle" fill="#222" >600</text>
<rect x="642.7" y="114.7" width="14" height="9.2" fill="#fff" stroke="#222" stroke-width="0.8"/>
<text x="649.7" y="121.82" font-size="7" text-anchor="middle" fill="#222" >800</text>
<ellipse cx="435" cy="13" rx="2.15" ry="2.15" fill="#c00000" stroke="#600000" stroke-width="0.7"/>
<ellipse cx="681" cy="13" rx="2.15" ry="2.15" fill="#c00000" stroke="#600000" stroke-width="0.7"/>
<ellipse cx="681" cy="235" rx="2.15" ry="2.15" fill="#c00000" stroke="#600000" stroke-width="0.7"/>
<ellipse cx="558.2" cy="123.5" rx="2.2" ry="2.2" fill="#c00000" stroke="#600000" stroke-width="0.7"/>
<rect x="435.5" y="215.7" width="63.5" height="11.1" fill="#fff" stroke="#444" stroke-width="0.8"/>
<text x="437" y="224.2" font-size="7.3" text-anchor="start" fill="#222" textLength="30.6" lengthAdjust="spacingAndGlyphs" >Prediction</text>
<text x="472.6" y="224.2" font-size="7.3" text-anchor="start" fill="#222" textLength="23.8" lengthAdjust="spacingAndGlyphs" >302.793</text>
<circle cx="435" cy="235.2" r="2.1" fill="none" stroke="#3a1518" stroke-width="1.2"/>
<text x="463" y="49.1" font-size="19" text-anchor="start" fill="#ffff00" font-weight="bold" textLength="12.2" lengthAdjust="spacingAndGlyphs" >B</text>
<clipPath id="cpC"><rect x="129" y="289" width="246" height="222"/></clipPath>
<g clip-path="url(#cpC)">
<rect x="129" y="289" width="246" height="222" fill="#ff0000"/>
<path d="M89.7 288L104.1 344L118.5 400L132.9 456L147.3 512L378 512L378 288Z" fill="#ff0300"/>
<path d="M91.4 288L105.8 344L120.1 400L134.5 456L148.9 512L378 512L378 288Z" fill="#ff0a00"/>
<path d="M93 288L107.4 344L121.8 400L136.2 456L150.5 512L378 512L378 288Z" fill="#ff1000"/>
<path d="M94.7 288L109.1 344L123.4 400L137.8 456L152.2 512L378 512L378 288Z" fill="#ff1600"/>
<path d="M96.3 288L110.7 344L125.1 400L139.5 456L153.8 512L378 512L378 288Z" fill="#ff1d00"/>
<path d="M98 288L112.3 344L126.7 400L141.1 456L155.5 512L378 512L378 288Z" fill="#ff2300"/>
<path d="M99.6 288L114 344L128.4 400L142.7 456L157.1 512L378 512L378 288Z" fill="#ff2900"/>
<path d="M101.2 288L115.6 344L130 400L144.4 456L158.8 512L378 512L378 288Z" fill="#ff3000"/>
<path d="M102.9 288L117.3 344L131.7 400L146 456L160.4 512L378 512L378 288Z" fill="#ff3600"/>
<path d="M104.5 288L118.9 344L133.3 400L147.7 456L162.1 512L378 512L378 288Z" fill="#ff3d00"/>
<path d="M106.2 288L120.6 344L134.9 400L149.3 456L163.7 512L378 512L378 288Z" fill="#ff4300"/>
<path d="M107.8 288L122.2 344L136.6 400L151 456L165.3 512L378 512L378 288Z" fill="#ff4900"/>
<path d="M109.5 288L123.8 344L138.2 400L152.6 456L167 512L378 512L378 288Z" fill="#ff5000"/>
<path d="M111.1 288L125.5 344L139.9 400L154.2 456L168.6 512L378 512L378 288Z" fill="#ff5600"/>
<path d="M112.8 288L127.1 344L141.5 400L155.9 456L170.3 512L378 512L378 288Z" fill="#ff5c00"/>
<path d="M114.4 288L128.8 344L143.2 400L157.5 456L171.9 512L378 512L378 288Z" fill="#ff6300"/>
<path d="M116 288L130.4 344L144.8 400L159.2 456L173.6 512L378 512L378 288Z" fill="#ff6900"/>
<path d="M117.7 288L132.1 344L146.4 400L160.8 456L175.2 512L378 512L378 288Z" fill="#ff7000"/>
<path d="M119.3 288L133.7 344L148.1 400L162.5 456L176.8 512L378 512L378 288Z" fill="#ff7600"/>
<path d="M121 288L135.4 344L149.7 400L164.1 456L178.5 512L378 512L378 288Z" fill="#ff7c00"/>
<path d="M122.6 288L137 344L151.4 400L165.8 456L180.1 512L378 512L378 288Z" fill="#ff8300"/>
<path d="M124.3 288L138.6 344L153 400L167.4 456L181.8 512L378 512L378 288Z" fill="#ff8900"/>
<path d="M125.9 288L140.3 344L154.7 400L169 456L183.4 512L378 512L378 288Z" fill="#ff8f00"/>
<path d="M127.5 288L141.9 344L156.3 400L170.7 456L185.1 512L378 512L378 288Z" fill="#ff9600"/>
<path d="M129.2 288L143.6 344L158 400L172.3 456L186.7 512L378 512L378 288Z" fill="#ff9c00"/>
<path d="M130.8 288L145.2 344L159.6 400L174 456L188.4 512L378 512L378 288Z" fill="#ffa300"/>
<path d="M132.5 288L146.9 344L161.2 400L175.6 456L190 512L378 512L378 288Z" fill="#ffa900"/>
<path d="M134.1 288L148.5 344L162.9 400L177.3 456L191.6 512L378 512L378 288Z" fill="#ffaf00"/>
<path d="M135.8 288L150.1 344L164.5 400L178.9 456L193.3 512L378 512L378 288Z" fill="#ffb600"/>
<path d="M137.4 288L151.8 344L166.2 400L180.5 456L194.9 512L378 512L378 288Z" fill="#ffbc00"/>
<path d="M139.1 288L153.4 344L167.8 400L182.2 456L196.6 512L378 512L378 288Z" fill="#ffc200"/>
<path d="M140.7 288L155.1 344L169.5 400L183.8 456L198.2 512L378 512L378 288Z" fill="#ffc900"/>
<path d="M142.3 288L156.7 344L171.1 400L185.5 456L199.9 512L378 512L378 288Z" fill="#ffcf00"/>
<path d="M144 288L158.4 344L172.7 400L187.1 456L201.5 512L378 512L378 288Z" fill="#ffd600"/>
<path d="M145.6 288L160 344L174.4 400L188.8 456L203.1 512L378 512L378 288Z" fill="#ffdc00"/>
<path d="M147.3 288L161.7 344L176 400L190.4 456L204.8 512L378 512L378 288Z" fill="#ffe200"/>
<path d="M148.9 288L163.3 344L177.7 400L192.1 456L206.4 512L378 512L378 288Z" fill="#ffe900"/>
<path d="M150.6 288L164.9 344L179.3 400L193.7 456L208.1 512L378 512L378 288Z" fill="#ffef00"/>
<path d="M152.2 288L166.6 344L181 400L195.3 456L209.7 512L378 512L378 288Z" fill="#fff500"/>
<path d="M153.8 288L168.2 344L182.6 400L197 456L211.4 512L378 512L378 288Z" fill="#fffc00"/>
<path d="M155.5 288L169.9 344L184.2 400L198.6 456L213 512L378 512L378 288Z" fill="#fcff00"/>
<path d="M157.1 288L171.5 344L185.9 400L200.3 456L214.7 512L378 512L378 288Z" fill="#f5ff00"/>
<path d="M158.8 288L173.2 344L187.5 400L201.9 456L216.3 512L378 512L378 288Z" fill="#efff00"/>
<path d="M160.4 288L174.8 344L189.2 400L203.6 456L217.9 512L378 512L378 288Z" fill="#e9ff00"/>
<path d="M162.1 288L176.4 344L190.8 400L205.2 456L219.6 512L378 512L378 288Z" fill="#e2ff00"/>
<path d="M163.7 288L178.1 344L192.5 400L206.8 456L221.2 512L378 512L378 288Z" fill="#dcff00"/>
<path d="M165.4 288L179.7 344L194.1 400L208.5 456L222.9 512L378 512L378 288Z" fill="#d6ff00"/>
<path d="M167 288L181.4 344L195.8 400L210.1 456L224.5 512L378 512L378 288Z" fill="#cfff00"/>
<path d="M168.6 288L183 344L197.4 400L211.8 456L226.2 512L378 512L378 288Z" fill="#c9ff00"/>
<path d="M170.3 288L184.7 344L199 400L213.4 456L227.8 512L378 512L378 288Z" fill="#c2ff00"/>
<path d="M171.9 288L186.3 344L200.7 400L215.1 456L229.4 512L378 512L378 288Z" fill="#bcff00"/>
<path d="M173.6 288L188 344L202.3 400L216.7 456L231.1 512L378 512L378 288Z" fill="#b6ff00"/>
<path d="M175.2 288L189.6 344L204 400L218.4 456L232.7 512L378 512L378 288Z" fill="#afff00"/>
<path d="M176.9 288L191.2 344L205.6 400L220 456L234.4 512L378 512L378 288Z" fill="#a9ff00"/>
<path d="M178.5 288L192.9 344L207.3 400L221.6 456L236 512L378 512L378 288Z" fill="#a3ff00"/>
<path d="M180.1 288L194.5 344L208.9 400L223.3 456L237.7 512L378 512L378 288Z" fill="#9cff00"/>
<path d="M181.8 288L196.2 344L210.6 400L224.9 456L239.3 512L378 512L378 288Z" fill="#96ff00"/>
<path d="M183.4 288L197.8 344L212.2 400L226.6 456L241 512L378 512L378 288Z" fill="#8fff00"/>
<path d="M185.1 288L199.5 344L213.8 400L228.2 456L242.6 512L378 512L378 288Z" fill="#89ff00"/>
<path d="M186.7 288L201.1 344L215.5 400L229.9 456L244.2 512L378 512L378 288Z" fill="#83ff00"/>
<path d="M188.4 288L202.7 344L217.1 400L231.5 456L245.9 512L378 512L378 288Z" fill="#7cff00"/>
<path d="M190 288L204.4 344L218.8 400L233.1 456L247.5 512L378 512L378 288Z" fill="#76ff00"/>
<path d="M191.7 288L206 344L220.4 400L234.8 456L249.2 512L378 512L378 288Z" fill="#70ff00"/>
<path d="M193.3 288L207.7 344L222.1 400L236.4 456L250.8 512L378 512L378 288Z" fill="#69ff00"/>
<path d="M194.9 288L209.3 344L223.7 400L238.1 456L252.5 512L378 512L378 288Z" fill="#63ff00"/>
<path d="M196.6 288L211 344L225.3 400L239.7 456L254.1 512L378 512L378 288Z" fill="#5cff00"/>
<path d="M198.2 288L212.6 344L227 400L241.4 456L255.7 512L378 512L378 288Z" fill="#56ff00"/>
<path d="M199.9 288L214.3 344L228.6 400L243 456L257.4 512L378 512L378 288Z" fill="#50ff00"/>
<path d="M201.5 288L215.9 344L230.3 400L244.7 456L259 512L378 512L378 288Z" fill="#49ff00"/>
<path d="M203.2 288L217.5 344L231.9 400L246.3 456L260.7 512L378 512L378 288Z" fill="#43ff00"/>
<path d="M204.8 288L219.2 344L233.6 400L247.9 456L262.3 512L378 512L378 288Z" fill="#3dff00"/>
<path d="M206.4 288L220.8 344L235.2 400L249.6 456L264 512L378 512L378 288Z" fill="#36ff00"/>
<path d="M208.1 288L222.5 344L236.8 400L251.2 456L265.6 512L378 512L378 288Z" fill="#30ff00"/>
<path d="M209.7 288L224.1 344L238.5 400L252.9 456L267.3 512L378 512L378 288Z" fill="#29ff00"/>
<path d="M211.4 288L225.8 344L240.1 400L254.5 456L268.9 512L378 512L378 288Z" fill="#23ff00"/>
<path d="M213 288L227.4 344L241.8 400L256.2 456L270.5 512L378 512L378 288Z" fill="#1dff00"/>
<path d="M214.7 288L229 344L243.4 400L257.8 456L272.2 512L378 512L378 288Z" fill="#16ff00"/>
<path d="M216.3 288L230.7 344L245.1 400L259.4 456L273.8 512L378 512L378 288Z" fill="#10ff00"/>
<path d="M218 288L232.3 344L246.7 400L261.1 456L275.5 512L378 512L378 288Z" fill="#0aff00"/>
<path d="M219.6 288L234 344L248.4 400L262.7 456L277.1 512L378 512L378 288Z" fill="#03ff00"/>
<path d="M221.2 288L235.6 344L250 400L264.4 456L278.8 512L378 512L378 288Z" fill="#00ff03"/>
<path d="M222.9 288L237.3 344L251.6 400L266 456L280.4 512L378 512L378 288Z" fill="#00ff0a"/>
<path d="M224.5 288L238.9 344L253.3 400L267.7 456L282 512L378 512L378 288Z" fill="#00ff10"/>
<path d="M226.2 288L240.6 344L254.9 400L269.3 456L283.7 512L378 512L378 288Z" fill="#00ff16"/>
<path d="M227.8 288L242.2 344L256.6 400L271 456L285.3 512L378 512L378 288Z" fill="#00ff1d"/>
<path d="M229.5 288L243.8 344L258.2 400L272.6 456L287 512L378 512L378 288Z" fill="#00ff23"/>
<path d="M231.1 288L245.5 344L259.9 400L274.2 456L288.6 512L378 512L378 288Z" fill="#00ff29"/>
<path d="M232.7 288L247.1 344L261.5 400L275.9 456L290.3 512L378 512L378 288Z" fill="#00ff30"/>
<path d="M234.4 288L248.8 344L263.1 400L277.5 456L291.9 512L378 512L378 288Z" fill="#00ff36"/>
<path d="M236 288L250.4 344L264.8 400L279.2 456L293.6 512L378 512L378 288Z" fill="#00ff3d"/>
<path d="M237.7 288L252.1 344L266.4 400L280.8 456L295.2 512L378 512L378 288Z" fill="#00ff43"/>
<path d="M239.3 288L253.7 344L268.1 400L282.5 456L296.8 512L378 512L378 288Z" fill="#00ff49"/>
<path d="M241 288L255.3 344L269.7 400L284.1 456L298.5 512L378 512L378 288Z" fill="#00ff50"/>
<path d="M242.6 288L257 344L271.4 400L285.7 456L300.1 512L378 512L378 288Z" fill="#00ff56"/>
<path d="M244.3 288L258.6 344L273 400L287.4 456L301.8 512L378 512L378 288Z" fill="#00ff5c"/>
<path d="M245.9 288L260.3 344L274.7 400L289 456L303.4 512L378 512L378 288Z" fill="#00ff63"/>
<path d="M247.5 288L261.9 344L276.3 400L290.7 456L305.1 512L378 512L378 288Z" fill="#00ff69"/>
<path d="M249.2 288L263.6 344L277.9 400L292.3 456L306.7 512L378 512L378 288Z" fill="#00ff70"/>
<path d="M250.8 288L265.2 344L279.6 400L294 456L308.3 512L378 512L378 288Z" fill="#00ff76"/>
<path d="M252.5 288L266.9 344L281.2 400L295.6 456L310 512L378 512L378 288Z" fill="#00ff7c"/>
<path d="M254.1 288L268.5 344L282.9 400L297.3 456L311.6 512L378 512L378 288Z" fill="#00ff83"/>
<path d="M255.8 288L270.1 344L284.5 400L298.9 456L313.3 512L378 512L378 288Z" fill="#00ff89"/>
<path d="M257.4 288L271.8 344L286.2 400L300.5 456L314.9 512L378 512L378 288Z" fill="#00ff8f"/>
<path d="M259 288L273.4 344L287.8 400L302.2 456L316.6 512L378 512L378 288Z" fill="#00ff96"/>
<path d="M260.7 288L275.1 344L289.4 400L303.8 456L318.2 512L378 512L378 288Z" fill="#00ff9c"/>
<path d="M262.3 288L276.7 344L291.1 400L305.5 456L319.9 512L378 512L378 288Z" fill="#00ffa3"/>
<path d="M264 288L278.4 344L292.7 400L307.1 456L321.5 512L378 512L378 288Z" fill="#00ffa9"/>
<path d="M265.6 288L280 344L294.4 400L308.8 456L323.1 512L378 512L378 288Z" fill="#00ffaf"/>
<path d="M267.3 288L281.6 344L296 400L310.4 456L324.8 512L378 512L378 288Z" fill="#00ffb6"/>
<path d="M268.9 288L283.3 344L297.7 400L312 456L326.4 512L378 512L378 288Z" fill="#00ffbc"/>
<path d="M270.6 288L284.9 344L299.3 400L313.7 456L328.1 512L378 512L378 288Z" fill="#00ffc2"/>
<path d="M272.2 288L286.6 344L301 400L315.3 456L329.7 512L378 512L378 288Z" fill="#00ffc9"/>
<path d="M273.8 288L288.2 344L302.6 400L317 456L331.4 512L378 512L378 288Z" fill="#00ffcf"/>
<path d="M275.5 288L289.9 344L304.2 400L318.6 456L333 512L378 512L378 288Z" fill="#00ffd6"/>
<path d="M277.1 288L291.5 344L305.9 400L320.3 456L334.6 512L378 512L378 288Z" fill="#00ffdc"/>
<path d="M278.8 288L293.2 344L307.5 400L321.9 456L336.3 512L378 512L378 288Z" fill="#00ffe2"/>
<path d="M280.4 288L294.8 344L309.2 400L323.6 456L337.9 512L378 512L378 288Z" fill="#00ffe9"/>
<path d="M282.1 288L296.4 344L310.8 400L325.2 456L339.6 512L378 512L378 288Z" fill="#00ffef"/>
<path d="M283.7 288L298.1 344L312.5 400L326.8 456L341.2 512L378 512L378 288Z" fill="#00fff5"/>
<path d="M285.3 288L299.7 344L314.1 400L328.5 456L342.9 512L378 512L378 288Z" fill="#00fffc"/>
<path d="M287 288L301.4 344L315.8 400L330.1 456L344.5 512L378 512L378 288Z" fill="#00fcff"/>
<path d="M288.6 288L303 344L317.4 400L331.8 456L346.2 512L378 512L378 288Z" fill="#00f5ff"/>
<path d="M290.3 288L304.7 344L319 400L333.4 456L347.8 512L378 512L378 288Z" fill="#00efff"/>
<path d="M291.9 288L306.3 344L320.7 400L335.1 456L349.4 512L378 512L378 288Z" fill="#00e9ff"/>
<path d="M293.6 288L307.9 344L322.3 400L336.7 456L351.1 512L378 512L378 288Z" fill="#00e2ff"/>
<path d="M295.2 288L309.6 344L324 400L338.3 456L352.7 512L378 512L378 288Z" fill="#00dcff"/>
<path d="M296.9 288L311.2 344L325.6 400L340 456L354.4 512L378 512L378 288Z" fill="#00d6ff"/>
<path d="M298.5 288L312.9 344L327.3 400L341.6 456L356 512L378 512L378 288Z" fill="#00cfff"/>
<path d="M300.1 288L314.5 344L328.9 400L343.3 456L357.7 512L378 512L378 288Z" fill="#00c9ff"/>
<path d="M301.8 288L316.2 344L330.5 400L344.9 456L359.3 512L378 512L378 288Z" fill="#00c2ff"/>
<path d="M303.4 288L317.8 344L332.2 400L346.6 456L360.9 512L378 512L378 288Z" fill="#00bcff"/>
<path d="M305.1 288L319.5 344L333.8 400L348.2 456L362.6 512L378 512L378 288Z" fill="#00b6ff"/>
<path d="M306.7 288L321.1 344L335.5 400L349.9 456L364.2 512L378 512L378 288Z" fill="#00afff"/>
<path d="M308.4 288L322.7 344L337.1 400L351.5 456L365.9 512L378 512L378 288Z" fill="#00a9ff"/>
<path d="M310 288L324.4 344L338.8 400L353.1 456L367.5 512L378 512L378 288Z" fill="#00a3ff"/>
<path d="M311.6 288L326 344L340.4 400L354.8 456L369.2 512L378 512L378 288Z" fill="#009cff"/>
<path d="M313.3 288L327.7 344L342.1 400L356.4 456L370.8 512L378 512L378 288Z" fill="#0096ff"/>
<path d="M314.9 288L329.3 344L343.7 400L358.1 456L372.5 512L378 512L378 288Z" fill="#008fff"/>
<path d="M316.6 288L331 344L345.3 400L359.7 456L374.1 512L378 512L378 288Z" fill="#0089ff"/>
<path d="M318.2 288L332.6 344L347 400L361.4 456L375.7 512L378 512L378 288Z" fill="#0083ff"/>
<path d="M319.9 288L334.2 344L348.6 400L363 456L377.4 512L378 512L378 288Z" fill="#007cff"/>
<path d="M321.5 288L335.9 344L350.3 400L364.6 456L379 512L378 512L378 288Z" fill="#0076ff"/>
<path d="M323.2 288L337.5 344L351.9 400L366.3 456L380.7 512L378 512L378 288Z" fill="#0070ff"/>
<path d="M324.8 288L339.2 344L353.6 400L367.9 456L382.3 512L378 512L378 288Z" fill="#0069ff"/>
<path d="M326.4 288L340.8 344L355.2 400L369.6 456L384 512L378 512L378 288Z" fill="#0063ff"/>
<path d="M328.1 288L342.5 344L356.8 400L371.2 456L385.6 512L378 512L378 288Z" fill="#005cff"/>
<path d="M329.7 288L344.1 344L358.5 400L372.9 456L387.2 512L378 512L378 288Z" fill="#0056ff"/>
<path d="M331.4 288L345.8 344L360.1 400L374.5 456L388.9 512L378 512L378 288Z" fill="#0050ff"/>
<path d="M333 288L347.4 344L361.8 400L376.2 456L390.5 512L378 512L378 288Z" fill="#0049ff"/>
<path d="M334.7 288L349 344L363.4 400L377.8 456L392.2 512L378 512L378 288Z" fill="#0043ff"/>
<path d="M336.3 288L350.7 344L365.1 400L379.4 456L393.8 512L378 512L378 288Z" fill="#003dff"/>
<path d="M337.9 288L352.3 344L366.7 400L381.1 456L395.5 512L378 512L378 288Z" fill="#0036ff"/>
<path d="M339.6 288L354 344L368.4 400L382.7 456L397.1 512L378 512L378 288Z" fill="#0030ff"/>
<path d="M341.2 288L355.6 344L370 400L384.4 456L398.8 512L378 512L378 288Z" fill="#0029ff"/>
<path d="M342.9 288L357.3 344L371.6 400L386 456L400.4 512L378 512L378 288Z" fill="#0023ff"/>
<path d="M344.5 288L358.9 344L373.3 400L387.7 456L402 512L378 512L378 288Z" fill="#001dff"/>
<path d="M346.2 288L360.5 344L374.9 400L389.3 456L403.7 512L378 512L378 288Z" fill="#0016ff"/>
<path d="M347.8 288L362.2 344L376.6 400L390.9 456L405.3 512L378 512L378 288Z" fill="#0010ff"/>
<path d="M349.5 288L363.8 344L378.2 400L392.6 456L407 512L378 512L378 288Z" fill="#000aff"/>
<path d="M351.1 288L365.5 344L379.9 400L394.2 456L408.6 512L378 512L378 288Z" fill="#0003ff"/>
</g>
<path d="M144.2 289L201.2 511" fill="none" stroke="#111" stroke-width="0.9" clip-path="url(#cpC)"/>
<path d="M220.4 289L277.4 511" fill="none" stroke="#111" stroke-width="0.9" clip-path="url(#cpC)"/>
<path d="M296.8 289L353.8 511" fill="none" stroke="#111" stroke-width="0.9" clip-path="url(#cpC)"/>
<rect x="129" y="289" width="246" height="222" fill="none" stroke="#222" stroke-opacity="1" stroke-width="1"/>
<line x1="129.0" y1="511" x2="129.0" y2="517" stroke="#222" stroke-width="1"/>
<text x="129" y="524.3" font-size="6.5" text-anchor="middle" fill="#333" >-1</text>
<line x1="123" y1="511.0" x2="129" y2="511.0" stroke="#222" stroke-width="1"/>
<text x="121" y="513.3" font-size="6.5" text-anchor="end" fill="#333" >-1</text>
<line x1="190.5" y1="511" x2="190.5" y2="517" stroke="#222" stroke-width="1"/>
<text x="190.5" y="524.3" font-size="6.5" text-anchor="middle" fill="#333" >-0.5</text>
<line x1="123" y1="455.5" x2="129" y2="455.5" stroke="#222" stroke-width="1"/>
<text x="121" y="457.8" font-size="6.5" text-anchor="end" fill="#333" >-0.5</text>
<line x1="252.0" y1="511" x2="252.0" y2="517" stroke="#222" stroke-width="1"/>
<text x="252" y="524.3" font-size="6.5" text-anchor="middle" fill="#333" >0</text>
<line x1="123" y1="400.0" x2="129" y2="400.0" stroke="#222" stroke-width="1"/>
<text x="121" y="402.3" font-size="6.5" text-anchor="end" fill="#333" >0</text>
<line x1="313.5" y1="511" x2="313.5" y2="517" stroke="#222" stroke-width="1"/>
<text x="313.5" y="524.3" font-size="6.5" text-anchor="middle" fill="#333" >0.5</text>
<line x1="123" y1="344.5" x2="129" y2="344.5" stroke="#222" stroke-width="1"/>
<text x="121" y="346.8" font-size="6.5" text-anchor="end" fill="#333" >0.5</text>
<line x1="375.0" y1="511" x2="375.0" y2="517" stroke="#222" stroke-width="1"/>
<text x="375" y="524.3" font-size="6.5" text-anchor="middle" fill="#333" >1</text>
<line x1="123" y1="289.0" x2="129" y2="289.0" stroke="#222" stroke-width="1"/>
<text x="121" y="291.3" font-size="6.5" text-anchor="end" fill="#333" >1</text>
<text x="252" y="540.8" font-size="7.5" text-anchor="middle" fill="#333" textLength="84" lengthAdjust="spacingAndGlyphs" >A: Soya lecithin conc. (mg)</text>
<g transform="translate(91.8,391) rotate(-90)">
<text x="0" y="0" font-size="7.5" text-anchor="middle" fill="#333" textLength="78.7" lengthAdjust="spacingAndGlyphs" >B: Cholesterol conc. (mg)</text>
</g>
<text x="217" y="284.7" font-size="8.5" text-anchor="start" fill="#333" textLength="51.3" lengthAdjust="spacingAndGlyphs" >Drug release</text>
<text x="273.6" y="284.7" font-size="8.5" text-anchor="start" fill="#333" textLength="13.4" lengthAdjust="spacingAndGlyphs" >(%)</text>
<rect x="166.70000000000002" y="388.2" width="10.2" height="9.4" fill="#fff" stroke="#222" stroke-width="0.8"/>
<text x="171.8" y="395.41999999999996" font-size="7" text-anchor="middle" fill="#222" >70</text>
<text x="246.5" y="402.2" font-size="6" text-anchor="end" fill="#222" >3</text>
<rect x="243.9" y="388.7" width="9.8" height="9.4" fill="#fff" stroke="#222" stroke-width="0.8"/>
<text x="248.8" y="395.91999999999996" font-size="7" text-anchor="middle" fill="#222" >60</text>
<rect x="320.70000000000005" y="390.7" width="9.8" height="9.2" fill="#fff" stroke="#222" stroke-width="0.8"/>
<text x="325.6" y="397.82" font-size="7" text-anchor="middle" fill="#222" >50</text>
<ellipse cx="129" cy="289" rx="2.15" ry="2.15" fill="#c00000" stroke="#600000" stroke-width="0.7"/>
<ellipse cx="375" cy="289" rx="2.15" ry="2.15" fill="#c00000" stroke="#600000" stroke-width="0.7"/>
<ellipse cx="375" cy="511" rx="2.15" ry="2.15" fill="#c00000" stroke="#600000" stroke-width="0.7"/>
<ellipse cx="251.8" cy="400.3" rx="2.2" ry="2.2" fill="#c00000" stroke="#600000" stroke-width="0.7"/>
<rect x="129.5" y="492" width="63.5" height="10.9" fill="#fff" stroke="#444" stroke-width="0.8"/>
<text x="131" y="500.2" font-size="7.3" text-anchor="start" fill="#222" textLength="30.6" lengthAdjust="spacingAndGlyphs" >Prediction</text>
<text x="166.6" y="500.2" font-size="7.3" text-anchor="start" fill="#222" textLength="23.8" lengthAdjust="spacingAndGlyphs" >79.4874</text>
<circle cx="129" cy="511.2" r="2.1" fill="none" stroke="#3a1518" stroke-width="1.2"/>
<text x="148.3" y="326.2" font-size="17.5" text-anchor="start" fill="#000" font-weight="bold" textLength="11.6" lengthAdjust="spacingAndGlyphs" stroke="#000" stroke-width="0.3">C</text>
<clipPath id="cpD"><rect x="439.7" y="292.8" width="234.8" height="219.59999999999997"/></clipPath>
<g clip-path="url(#cpD)">
<rect x="439.7" y="292.8" width="234.8" height="219.59999999999997" fill="#ff0000"/>
<path d="M387.5 291.8L400.6 347.2L413.7 402.6L426.8 458L439.9 513.4L677.5 513.4L677.5 291.8Z" fill="#ff0300"/>
<path d="M389.3 291.8L402.4 347.2L415.5 402.6L428.6 458L441.7 513.4L677.5 513.4L677.5 291.8Z" fill="#ff0a00"/>
<path d="M391 291.8L404.2 347.2L417.3 402.6L430.4 458L443.5 513.4L677.5 513.4L677.5 291.8Z" fill="#ff1000"/>
<path d="M392.8 291.8L406 347.2L419.1 402.6L432.2 458L445.3 513.4L677.5 513.4L677.5 291.8Z" fill="#ff1600"/>
<path d="M394.6 291.8L407.8 347.2L420.9 402.6L434 458L447.1 513.4L677.5 513.4L677.5 291.8Z" fill="#ff1d00"/>
<path d="M396.4 291.8L409.5 347.2L422.7 402.6L435.8 458L448.9 513.4L677.5 513.4L677.5 291.8Z" fill="#ff2300"/>
<path d="M398.2 291.8L411.3 347.2L424.5 402.6L437.6 458L450.7 513.4L677.5 513.4L677.5 291.8Z" fill="#ff2900"/>
<path d="M400 291.8L413.1 347.2L426.2 402.6L439.4 458L452.5 513.4L677.5 513.4L677.5 291.8Z" fill="#ff3000"/>
<path d="M401.8 291.8L414.9 347.2L428 402.6L441.2 458L454.3 513.4L677.5 513.4L677.5 291.8Z" fill="#ff3600"/>
<path d="M403.6 291.8L416.7 347.2L429.8 402.6L443 458L456.1 513.4L677.5 513.4L677.5 291.8Z" fill="#ff3d00"/>
<path d="M405.4 291.8L418.5 347.2L431.6 402.6L444.7 458L457.9 513.4L677.5 513.4L677.5 291.8Z" fill="#ff4300"/>
<path d="M407.2 291.8L420.3 347.2L433.4 402.6L446.5 458L459.7 513.4L677.5 513.4L677.5 291.8Z" fill="#ff4900"/>
<path d="M409 291.8L422.1 347.2L435.2 402.6L448.3 458L461.4 513.4L677.5 513.4L677.5 291.8Z" fill="#ff5000"/>
<path d="M410.8 291.8L423.9 347.2L437 402.6L450.1 458L463.2 513.4L677.5 513.4L677.5 291.8Z" fill="#ff5600"/>
<path d="M412.6 291.8L425.7 347.2L438.8 402.6L451.9 458L465 513.4L677.5 513.4L677.5 291.8Z" fill="#ff5c00"/>
<path d="M414.4 291.8L427.5 347.2L440.6 402.6L453.7 458L466.8 513.4L677.5 513.4L677.5 291.8Z" fill="#ff6300"/>
<path d="M416.1 291.8L429.3 347.2L442.4 402.6L455.5 458L468.6 513.4L677.5 513.4L677.5 291.8Z" fill="#ff6900"/>
<path d="M417.9 291.8L431.1 347.2L444.2 402.6L457.3 458L470.4 513.4L677.5 513.4L677.5 291.8Z" fill="#ff7000"/>
<path d="M419.7 291.8L432.8 347.2L446 402.6L459.1 458L472.2 513.4L677.5 513.4L677.5 291.8Z" fill="#ff7600"/>
<path d="M421.5 291.8L434.6 347.2L447.8 402.6L460.9 458L474 513.4L677.5 513.4L677.5 291.8Z" fill="#ff7c00"/>
<path d="M423.3 291.8L436.4 347.2L449.5 402.6L462.7 458L475.8 513.4L677.5 513.4L677.5 291.8Z" fill="#ff8300"/>
<path d="M425.1 291.8L438.2 347.2L451.3 402.6L464.5 458L477.6 513.4L677.5 513.4L677.5 291.8Z" fill="#ff8900"/>
<path d="M426.9 291.8L440 347.2L453.1 402.6L466.3 458L479.4 513.4L677.5 513.4L677.5 291.8Z" fill="#ff8f00"/>
<path d="M428.7 291.8L441.8 347.2L454.9 402.6L468 458L481.2 513.4L677.5 513.4L677.5 291.8Z" fill="#ff9600"/>
<path d="M430.5 291.8L443.6 347.2L456.7 402.6L469.8 458L483 513.4L677.5 513.4L677.5 291.8Z" fill="#ff9c00"/>
<path d="M432.3 291.8L445.4 347.2L458.5 402.6L471.6 458L484.7 513.4L677.5 513.4L677.5 291.8Z" fill="#ffa300"/>
<path d="M434.1 291.8L447.2 347.2L460.3 402.6L473.4 458L486.5 513.4L677.5 513.4L677.5 291.8Z" fill="#ffa900"/>
<path d="M435.9 291.8L449 347.2L462.1 402.6L475.2 458L488.3 513.4L677.5 513.4L677.5 291.8Z" fill="#ffaf00"/>
<path d="M437.7 291.8L450.8 347.2L463.9 402.6L477 458L490.1 513.4L677.5 513.4L677.5 291.8Z" fill="#ffb600"/>
<path d="M439.4 291.8L452.6 347.2L465.7 402.6L478.8 458L491.9 513.4L677.5 513.4L677.5 291.8Z" fill="#ffbc00"/>
<path d="M441.2 291.8L454.4 347.2L467.5 402.6L480.6 458L493.7 513.4L677.5 513.4L677.5 291.8Z" fill="#ffc200"/>
<path d="M443 291.8L456.1 347.2L469.3 402.6L482.4 458L495.5 513.4L677.5 513.4L677.5 291.8Z" fill="#ffc900"/>
<path d="M444.8 291.8L457.9 347.2L471.1 402.6L484.2 458L497.3 513.4L677.5 513.4L677.5 291.8Z" fill="#ffcf00"/>
<path d="M446.6 291.8L459.7 347.2L472.9 402.6L486 458L499.1 513.4L677.5 513.4L677.5 291.8Z" fill="#ffd600"/>
<path d="M448.4 291.8L461.5 347.2L474.6 402.6L487.8 458L500.9 513.4L677.5 513.4L677.5 291.8Z" fill="#ffdc00"/>
<path d="M450.2 291.8L463.3 347.2L476.4 402.6L489.6 458L502.7 513.4L677.5 513.4L677.5 291.8Z" fill="#ffe200"/>
<path d="M452 291.8L465.1 347.2L478.2 402.6L491.3 458L504.5 513.4L677.5 513.4L677.5 291.8Z" fill="#ffe900"/>
<path d="M453.8 291.8L466.9 347.2L480 402.6L493.1 458L506.3 513.4L677.5 513.4L677.5 291.8Z" fill="#ffef00"/>
<path d="M455.6 291.8L468.7 347.2L481.8 402.6L494.9 458L508.1 513.4L677.5 513.4L677.5 291.8Z" fill="#fff500"/>
<path d="M457.4 291.8L470.5 347.2L483.6 402.6L496.7 458L509.8 513.4L677.5 513.4L677.5 291.8Z" fill="#fffc00"/>
<path d="M459.2 291.8L472.3 347.2L485.4 402.6L498.5 458L511.6 513.4L677.5 513.4L677.5 291.8Z" fill="#fcff00"/>
<path d="M461 291.8L474.1 347.2L487.2 402.6L500.3 458L513.4 513.4L677.5 513.4L677.5 291.8Z" fill="#f5ff00"/>
<path d="M462.7 291.8L475.9 347.2L489 402.6L502.1 458L515.2 513.4L677.5 513.4L677.5 291.8Z" fill="#efff00"/>
<path d="M464.5 291.8L477.7 347.2L490.8 402.6L503.9 458L517 513.4L677.5 513.4L677.5 291.8Z" fill="#e9ff00"/>
<path d="M466.3 291.8L479.5 347.2L492.6 402.6L505.7 458L518.8 513.4L677.5 513.4L677.5 291.8Z" fill="#e2ff00"/>
<path d="M468.1 291.8L481.2 347.2L494.4 402.6L507.5 458L520.6 513.4L677.5 513.4L677.5 291.8Z" fill="#dcff00"/>
<path d="M469.9 291.8L483 347.2L496.2 402.6L509.3 458L522.4 513.4L677.5 513.4L677.5 291.8Z" fill="#d6ff00"/>
<path d="M471.7 291.8L484.8 347.2L497.9 402.6L511.1 458L524.2 513.4L677.5 513.4L677.5 291.8Z" fill="#cfff00"/>
<path d="M473.5 291.8L486.6 347.2L499.7 402.6L512.9 458L526 513.4L677.5 513.4L677.5 291.8Z" fill="#c9ff00"/>
<path d="M475.3 291.8L488.4 347.2L501.5 402.6L514.7 458L527.8 513.4L677.5 513.4L677.5 291.8Z" fill="#c2ff00"/>
<path d="M477.1 291.8L490.2 347.2L503.3 402.6L516.4 458L529.6 513.4L677.5 513.4L677.5 291.8Z" fill="#bcff00"/>
<path d="M478.9 291.8L492 347.2L505.1 402.6L518.2 458L531.4 513.4L677.5 513.4L677.5 291.8Z" fill="#b6ff00"/>
<path d="M480.7 291.8L493.8 347.2L506.9 402.6L520 458L533.1 513.4L677.5 513.4L677.5 291.8Z" fill="#afff00"/>
<path d="M482.5 291.8L495.6 347.2L508.7 402.6L521.8 458L534.9 513.4L677.5 513.4L677.5 291.8Z" fill="#a9ff00"/>
<path d="M484.3 291.8L497.4 347.2L510.5 402.6L523.6 458L536.7 513.4L677.5 513.4L677.5 291.8Z" fill="#a3ff00"/>
<path d="M486.1 291.8L499.2 347.2L512.3 402.6L525.4 458L538.5 513.4L677.5 513.4L677.5 291.8Z" fill="#9cff00"/>
<path d="M487.8 291.8L501 347.2L514.1 402.6L527.2 458L540.3 513.4L677.5 513.4L677.5 291.8Z" fill="#96ff00"/>
<path d="M489.6 291.8L502.8 347.2L515.9 402.6L529 458L542.1 513.4L677.5 513.4L677.5 291.8Z" fill="#8fff00"/>
<path d="M491.4 291.8L504.5 347.2L517.7 402.6L530.8 458L543.9 513.4L677.5 513.4L677.5 291.8Z" fill="#89ff00"/>
<path d="M493.2 291.8L506.3 347.2L519.5 402.6L532.6 458L545.7 513.4L677.5 513.4L677.5 291.8Z" fill="#83ff00"/>
<path d="M495 291.8L508.1 347.2L521.2 402.6L534.4 458L547.5 513.4L677.5 513.4L677.5 291.8Z" fill="#7cff00"/>
<path d="M496.8 291.8L509.9 347.2L523 402.6L536.2 458L549.3 513.4L677.5 513.4L677.5 291.8Z" fill="#76ff00"/>
<path d="M498.6 291.8L511.7 347.2L524.8 402.6L538 458L551.1 513.4L677.5 513.4L677.5 291.8Z" fill="#70ff00"/>
<path d="M500.4 291.8L513.5 347.2L526.6 402.6L539.7 458L552.9 513.4L677.5 513.4L677.5 291.8Z" fill="#69ff00"/>
<path d="M502.2 291.8L515.3 347.2L528.4 402.6L541.5 458L554.7 513.4L677.5 513.4L677.5 291.8Z" fill="#63ff00"/>
<path d="M504 291.8L517.1 347.2L530.2 402.6L543.3 458L556.4 513.4L677.5 513.4L677.5 291.8Z" fill="#5cff00"/>
<path d="M505.8 291.8L518.9 347.2L532 402.6L545.1 458L558.2 513.4L677.5 513.4L677.5 291.8Z" fill="#56ff00"/>
<path d="M507.6 291.8L520.7 347.2L533.8 402.6L546.9 458L560 513.4L677.5 513.4L677.5 291.8Z" fill="#50ff00"/>
<path d="M509.4 291.8L522.5 347.2L535.6 402.6L548.7 458L561.8 513.4L677.5 513.4L677.5 291.8Z" fill="#49ff00"/>
<path d="M511.1 291.8L524.3 347.2L537.4 402.6L550.5 458L563.6 513.4L677.5 513.4L677.5 291.8Z" fill="#43ff00"/>
<path d="M512.9 291.8L526.1 347.2L539.2 402.6L552.3 458L565.4 513.4L677.5 513.4L677.5 291.8Z" fill="#3dff00"/>
<path d="M514.7 291.8L527.8 347.2L541 402.6L554.1 458L567.2 513.4L677.5 513.4L677.5 291.8Z" fill="#36ff00"/>
<path d="M516.5 291.8L529.6 347.2L542.8 402.6L555.9 458L569 513.4L677.5 513.4L677.5 291.8Z" fill="#30ff00"/>
<path d="M518.3 291.8L531.4 347.2L544.6 402.6L557.7 458L570.8 513.4L677.5 513.4L677.5 291.8Z" fill="#29ff00"/>
<path d="M520.1 291.8L533.2 347.2L546.3 402.6L559.5 458L572.6 513.4L677.5 513.4L677.5 291.8Z" fill="#23ff00"/>
<path d="M521.9 291.8L535 347.2L548.1 402.6L561.3 458L574.4 513.4L677.5 513.4L677.5 291.8Z" fill="#1dff00"/>
<path d="M523.7 291.8L536.8 347.2L549.9 402.6L563 458L576.2 513.4L677.5 513.4L677.5 291.8Z" fill="#16ff00"/>
<path d="M525.5 291.8L538.6 347.2L551.7 402.6L564.8 458L578 513.4L677.5 513.4L677.5 291.8Z" fill="#10ff00"/>
<path d="M527.3 291.8L540.4 347.2L553.5 402.6L566.6 458L579.8 513.4L677.5 513.4L677.5 291.8Z" fill="#0aff00"/>
<path d="M529.1 291.8L542.2 347.2L555.3 402.6L568.4 458L581.5 513.4L677.5 513.4L677.5 291.8Z" fill="#03ff00"/>
<path d="M530.9 291.8L544 347.2L557.1 402.6L570.2 458L583.3 513.4L677.5 513.4L677.5 291.8Z" fill="#00ff03"/>
<path d="M532.7 291.8L545.8 347.2L558.9 402.6L572 458L585.1 513.4L677.5 513.4L677.5 291.8Z" fill="#00ff0a"/>
<path d="M534.4 291.8L547.6 347.2L560.7 402.6L573.8 458L586.9 513.4L677.5 513.4L677.5 291.8Z" fill="#00ff10"/>
<path d="M536.2 291.8L549.4 347.2L562.5 402.6L575.6 458L588.7 513.4L677.5 513.4L677.5 291.8Z" fill="#00ff16"/>
<path d="M538 291.8L551.2 347.2L564.3 402.6L577.4 458L590.5 513.4L677.5 513.4L677.5 291.8Z" fill="#00ff1d"/>
<path d="M539.8 291.8L552.9 347.2L566.1 402.6L579.2 458L592.3 513.4L677.5 513.4L677.5 291.8Z" fill="#00ff23"/>
<path d="M541.6 291.8L554.7 347.2L567.9 402.6L581 458L594.1 513.4L677.5 513.4L677.5 291.8Z" fill="#00ff29"/>
<path d="M543.4 291.8L556.5 347.2L569.6 402.6L582.8 458L595.9 513.4L677.5 513.4L677.5 291.8Z" fill="#00ff30"/>
<path d="M545.2 291.8L558.3 347.2L571.4 402.6L584.6 458L597.7 513.4L677.5 513.4L677.5 291.8Z" fill="#00ff36"/>
<path d="M547 291.8L560.1 347.2L573.2 402.6L586.4 458L599.5 513.4L677.5 513.4L677.5 291.8Z" fill="#00ff3d"/>
<path d="M548.8 291.8L561.9 347.2L575 402.6L588.1 458L601.3 513.4L677.5 513.4L677.5 291.8Z" fill="#00ff43"/>
<path d="M550.6 291.8L563.7 347.2L576.8 402.6L589.9 458L603.1 513.4L677.5 513.4L677.5 291.8Z" fill="#00ff49"/>
<path d="M552.4 291.8L565.5 347.2L578.6 402.6L591.7 458L604.8 513.4L677.5 513.4L677.5 291.8Z" fill="#00ff50"/>
<path d="M554.2 291.8L567.3 347.2L580.4 402.6L593.5 458L606.6 513.4L677.5 513.4L677.5 291.8Z" fill="#00ff56"/>
<path d="M556 291.8L569.1 347.2L582.2 402.6L595.3 458L608.4 513.4L677.5 513.4L677.5 291.8Z" fill="#00ff5c"/>
<path d="M557.8 291.8L570.9 347.2L584 402.6L597.1 458L610.2 513.4L677.5 513.4L677.5 291.8Z" fill="#00ff63"/>
<path d="M559.5 291.8L572.7 347.2L585.8 402.6L598.9 458L612 513.4L677.5 513.4L677.5 291.8Z" fill="#00ff69"/>
<path d="M561.3 291.8L574.5 347.2L587.6 402.6L600.7 458L613.8 513.4L677.5 513.4L677.5 291.8Z" fill="#00ff70"/>
<path d="M563.1 291.8L576.2 347.2L589.4 402.6L602.5 458L615.6 513.4L677.5 513.4L677.5 291.8Z" fill="#00ff76"/>
<path d="M564.9 291.8L578 347.2L591.2 402.6L604.3 458L617.4 513.4L677.5 513.4L677.5 291.8Z" fill="#00ff7c"/>
<path d="M566.7 291.8L579.8 347.2L593 402.6L606.1 458L619.2 513.4L677.5 513.4L677.5 291.8Z" fill="#00ff83"/>
<path d="M568.5 291.8L581.6 347.2L594.7 402.6L607.9 458L621 513.4L677.5 513.4L677.5 291.8Z" fill="#00ff89"/>
<path d="M570.3 291.8L583.4 347.2L596.5 402.6L609.7 458L622.8 513.4L677.5 513.4L677.5 291.8Z" fill="#00ff8f"/>
<path d="M572.1 291.8L585.2 347.2L598.3 402.6L611.4 458L624.6 513.4L677.5 513.4L677.5 291.8Z" fill="#00ff96"/>
<path d="M573.9 291.8L587 347.2L600.1 402.6L613.2 458L626.4 513.4L677.5 513.4L677.5 291.8Z" fill="#00ff9c"/>
<path d="M575.7 291.8L588.8 347.2L601.9 402.6L615 458L628.1 513.4L677.5 513.4L677.5 291.8Z" fill="#00ffa3"/>
<path d="M577.5 291.8L590.6 347.2L603.7 402.6L616.8 458L629.9 513.4L677.5 513.4L677.5 291.8Z" fill="#00ffa9"/>
<path d="M579.3 291.8L592.4 347.2L605.5 402.6L618.6 458L631.7 513.4L677.5 513.4L677.5 291.8Z" fill="#00ffaf"/>
<path d="M581.1 291.8L594.2 347.2L607.3 402.6L620.4 458L633.5 513.4L677.5 513.4L677.5 291.8Z" fill="#00ffb6"/>
<path d="M582.8 291.8L596 347.2L609.1 402.6L622.2 458L635.3 513.4L677.5 513.4L677.5 291.8Z" fill="#00ffbc"/>
<path d="M584.6 291.8L597.8 347.2L610.9 402.6L624 458L637.1 513.4L677.5 513.4L677.5 291.8Z" fill="#00ffc2"/>
<path d="M586.4 291.8L599.5 347.2L612.7 402.6L625.8 458L638.9 513.4L677.5 513.4L677.5 291.8Z" fill="#00ffc9"/>
<path d="M588.2 291.8L601.3 347.2L614.5 402.6L627.6 458L640.7 513.4L677.5 513.4L677.5 291.8Z" fill="#00ffcf"/>
<path d="M590 291.8L603.1 347.2L616.3 402.6L629.4 458L642.5 513.4L677.5 513.4L677.5 291.8Z" fill="#00ffd6"/>
<path d="M591.8 291.8L604.9 347.2L618 402.6L631.2 458L644.3 513.4L677.5 513.4L677.5 291.8Z" fill="#00ffdc"/>
<path d="M593.6 291.8L606.7 347.2L619.8 402.6L633 458L646.1 513.4L677.5 513.4L677.5 291.8Z" fill="#00ffe2"/>
<path d="M595.4 291.8L608.5 347.2L621.6 402.6L634.7 458L647.9 513.4L677.5 513.4L677.5 291.8Z" fill="#00ffe9"/>
<path d="M597.2 291.8L610.3 347.2L623.4 402.6L636.5 458L649.7 513.4L677.5 513.4L677.5 291.8Z" fill="#00ffef"/>
<path d="M599 291.8L612.1 347.2L625.2 402.6L638.3 458L651.5 513.4L677.5 513.4L677.5 291.8Z" fill="#00fff5"/>
<path d="M600.8 291.8L613.9 347.2L627 402.6L640.1 458L653.2 513.4L677.5 513.4L677.5 291.8Z" fill="#00fffc"/>
<path d="M602.6 291.8L615.7 347.2L628.8 402.6L641.9 458L655 513.4L677.5 513.4L677.5 291.8Z" fill="#00fcff"/>
<path d="M604.4 291.8L617.5 347.2L630.6 402.6L643.7 458L656.8 513.4L677.5 513.4L677.5 291.8Z" fill="#00f5ff"/>
<path d="M606.1 291.8L619.3 347.2L632.4 402.6L645.5 458L658.6 513.4L677.5 513.4L677.5 291.8Z" fill="#00efff"/>
<path d="M607.9 291.8L621.1 347.2L634.2 402.6L647.3 458L660.4 513.4L677.5 513.4L677.5 291.8Z" fill="#00e9ff"/>
<path d="M609.7 291.8L622.9 347.2L636 402.6L649.1 458L662.2 513.4L677.5 513.4L677.5 291.8Z" fill="#00e2ff"/>
<path d="M611.5 291.8L624.6 347.2L637.8 402.6L650.9 458L664 513.4L677.5 513.4L677.5 291.8Z" fill="#00dcff"/>
<path d="M613.3 291.8L626.4 347.2L639.6 402.6L652.7 458L665.8 513.4L677.5 513.4L677.5 291.8Z" fill="#00d6ff"/>
<path d="M615.1 291.8L628.2 347.2L641.3 402.6L654.5 458L667.6 513.4L677.5 513.4L677.5 291.8Z" fill="#00cfff"/>
<path d="M616.9 291.8L630 347.2L643.1 402.6L656.3 458L669.4 513.4L677.5 513.4L677.5 291.8Z" fill="#00c9ff"/>
<path d="M618.7 291.8L631.8 347.2L644.9 402.6L658.1 458L671.2 513.4L677.5 513.4L677.5 291.8Z" fill="#00c2ff"/>
<path d="M620.5 291.8L633.6 347.2L646.7 402.6L659.8 458L673 513.4L677.5 513.4L677.5 291.8Z" fill="#00bcff"/>
<path d="M622.3 291.8L635.4 347.2L648.5 402.6L661.6 458L674.8 513.4L677.5 513.4L677.5 291.8Z" fill="#00b6ff"/>
<path d="M624.1 291.8L637.2 347.2L650.3 402.6L663.4 458L676.5 513.4L677.5 513.4L677.5 291.8Z" fill="#00afff"/>
<path d="M625.9 291.8L639 347.2L652.1 402.6L665.2 458L678.3 513.4L677.5 513.4L677.5 291.8Z" fill="#00a9ff"/>
<path d="M627.7 291.8L640.8 347.2L653.9 402.6L667 458L680.1 513.4L677.5 513.4L677.5 291.8Z" fill="#00a3ff"/>
<path d="M629.5 291.8L642.6 347.2L655.7 402.6L668.8 458L681.9 513.4L677.5 513.4L677.5 291.8Z" fill="#009cff"/>
<path d="M631.2 291.8L644.4 347.2L657.5 402.6L670.6 458L683.7 513.4L677.5 513.4L677.5 291.8Z" fill="#0096ff"/>
<path d="M633 291.8L646.2 347.2L659.3 402.6L672.4 458L685.5 513.4L677.5 513.4L677.5 291.8Z" fill="#008fff"/>
<path d="M634.8 291.8L647.9 347.2L661.1 402.6L674.2 458L687.3 513.4L677.5 513.4L677.5 291.8Z" fill="#0089ff"/>
<path d="M636.6 291.8L649.7 347.2L662.9 402.6L676 458L689.1 513.4L677.5 513.4L677.5 291.8Z" fill="#0083ff"/>
<path d="M638.4 291.8L651.5 347.2L664.6 402.6L677.8 458L690.9 513.4L677.5 513.4L677.5 291.8Z" fill="#007cff"/>
<path d="M640.2 291.8L653.3 347.2L666.4 402.6L679.6 458L692.7 513.4L677.5 513.4L677.5 291.8Z" fill="#0076ff"/>
<path d="M642 291.8L655.1 347.2L668.2 402.6L681.4 458L694.5 513.4L677.5 513.4L677.5 291.8Z" fill="#0070ff"/>
<path d="M643.8 291.8L656.9 347.2L670 402.6L683.1 458L696.3 513.4L677.5 513.4L677.5 291.8Z" fill="#0069ff"/>
<path d="M645.6 291.8L658.7 347.2L671.8 402.6L684.9 458L698.1 513.4L677.5 513.4L677.5 291.8Z" fill="#0063ff"/>
<path d="M647.4 291.8L660.5 347.2L673.6 402.6L686.7 458L699.8 513.4L677.5 513.4L677.5 291.8Z" fill="#005cff"/>
<path d="M649.2 291.8L662.3 347.2L675.4 402.6L688.5 458L701.6 513.4L677.5 513.4L677.5 291.8Z" fill="#0056ff"/>
<path d="M651 291.8L664.1 347.2L677.2 402.6L690.3 458L703.4 513.4L677.5 513.4L677.5 291.8Z" fill="#0050ff"/>
<path d="M652.8 291.8L665.9 347.2L679 402.6L692.1 458L705.2 513.4L677.5 513.4L677.5 291.8Z" fill="#0049ff"/>
<path d="M654.5 291.8L667.7 347.2L680.8 402.6L693.9 458L707 513.4L677.5 513.4L677.5 291.8Z" fill="#0043ff"/>
<path d="M656.3 291.8L669.5 347.2L682.6 402.6L695.7 458L708.8 513.4L677.5 513.4L677.5 291.8Z" fill="#003dff"/>
<path d="M658.1 291.8L671.2 347.2L684.4 402.6L697.5 458L710.6 513.4L677.5 513.4L677.5 291.8Z" fill="#0036ff"/>
<path d="M659.9 291.8L673 347.2L686.2 402.6L699.3 458L712.4 513.4L677.5 513.4L677.5 291.8Z" fill="#0030ff"/>
<path d="M661.7 291.8L674.8 347.2L688 402.6L701.1 458L714.2 513.4L677.5 513.4L677.5 291.8Z" fill="#0029ff"/>
<path d="M663.5 291.8L676.6 347.2L689.7 402.6L702.9 458L716 513.4L677.5 513.4L677.5 291.8Z" fill="#0023ff"/>
<path d="M665.3 291.8L678.4 347.2L691.5 402.6L704.7 458L717.8 513.4L677.5 513.4L677.5 291.8Z" fill="#001dff"/>
<path d="M667.1 291.8L680.2 347.2L693.3 402.6L706.4 458L719.6 513.4L677.5 513.4L677.5 291.8Z" fill="#0016ff"/>
<path d="M668.9 291.8L682 347.2L695.1 402.6L708.2 458L721.4 513.4L677.5 513.4L677.5 291.8Z" fill="#0010ff"/>
<path d="M670.7 291.8L683.8 347.2L696.9 402.6L710 458L723.2 513.4L677.5 513.4L677.5 291.8Z" fill="#000aff"/>
<path d="M672.5 291.8L685.6 347.2L698.7 402.6L711.8 458L724.9 513.4L677.5 513.4L677.5 291.8Z" fill="#0003ff"/>
</g>
<path d="M434.2 292.8L486.2 512.4" fill="none" stroke="#1a1a2a" stroke-opacity="0.7" stroke-width="0.65" clip-path="url(#cpD)"/>
<path d="M504.7 292.8L556.7 512.4" fill="none" stroke="#1a1a2a" stroke-opacity="0.7" stroke-width="0.65" clip-path="url(#cpD)"/>
<path d="M575.3 292.8L627.3 512.4" fill="none" stroke="#1a1a2a" stroke-opacity="0.7" stroke-width="0.65" clip-path="url(#cpD)"/>
<path d="M645.3 292.8L697.3 512.4" fill="none" stroke="#1a1a2a" stroke-opacity="0.7" stroke-width="0.65" clip-path="url(#cpD)"/>
<rect x="0" y="280" width="439.7" height="240" fill="#fff" opacity="0"/>
<rect x="439.7" y="292.8" width="234.8" height="219.59999999999997" fill="none" stroke="#223" stroke-opacity="0.45" stroke-width="0.8"/>
<line x1="439.7" y1="512.4" x2="439.7" y2="517.4" stroke="#555" stroke-width="0.8"/>
<text x="439.7" y="524.4" font-size="5" text-anchor="middle" fill="#666" >-1</text>
<line x1="434.7" y1="512.4" x2="439.7" y2="512.4" stroke="#555" stroke-width="0.8"/>
<text x="432.7" y="514.2" font-size="5" text-anchor="end" fill="#666" >-1</text>
<line x1="498.4" y1="512.4" x2="498.4" y2="517.4" stroke="#555" stroke-width="0.8"/>
<text x="498.4" y="524.4" font-size="5" text-anchor="middle" fill="#666" >-0.5</text>
<line x1="434.7" y1="457.5" x2="439.7" y2="457.5" stroke="#555" stroke-width="0.8"/>
<text x="432.7" y="459.3" font-size="5" text-anchor="end" fill="#666" >-0.5</text>
<line x1="557.1" y1="512.4" x2="557.1" y2="517.4" stroke="#555" stroke-width="0.8"/>
<text x="557.1" y="524.4" font-size="5" text-anchor="middle" fill="#666" >0</text>
<line x1="434.7" y1="402.6" x2="439.7" y2="402.6" stroke="#555" stroke-width="0.8"/>
<text x="432.7" y="404.4" font-size="5" text-anchor="end" fill="#666" >0</text>
<line x1="615.8" y1="512.4" x2="615.8" y2="517.4" stroke="#555" stroke-width="0.8"/>
<text x="615.8" y="524.4" font-size="5" text-anchor="middle" fill="#666" >0.5</text>
<line x1="434.7" y1="347.7" x2="439.7" y2="347.7" stroke="#555" stroke-width="0.8"/>
<text x="432.7" y="349.5" font-size="5" text-anchor="end" fill="#666" >0.5</text>
<line x1="674.5" y1="512.4" x2="674.5" y2="517.4" stroke="#555" stroke-width="0.8"/>
<text x="674.5" y="524.4" font-size="5" text-anchor="middle" fill="#666" >1</text>
<line x1="434.7" y1="292.8" x2="439.7" y2="292.8" stroke="#555" stroke-width="0.8"/>
<text x="432.7" y="294.6" font-size="5" text-anchor="end" fill="#666" >1</text>
<text x="557.1" y="541.6" font-size="7" text-anchor="middle" fill="#333" textLength="78.7" lengthAdjust="spacingAndGlyphs" >A: Soya lecithin conc. (mg)</text>
<g transform="translate(403.2,401.4) rotate(-90)">
<text x="0" y="0" font-size="7" text-anchor="middle" fill="#333" textLength="69.8" lengthAdjust="spacingAndGlyphs" >B: Cholesterol conc. (mg)</text>
</g>
<text x="557.1" y="289" font-size="6.5" text-anchor="middle" fill="#333" textLength="22.8" lengthAdjust="spacingAndGlyphs" >EE (%)</text>
<rect x="459.6" y="409.3" width="7" height="4" fill="#fff" stroke="#8a8a8a" stroke-width="0.5"/>
<text x="463.1" y="412.3" font-size="2.8" text-anchor="middle" fill="#667" >80</text>
<rect x="527.05" y="398.4" width="6.7" height="4.2" fill="#fff" stroke="#8a8a8a" stroke-width="0.5"/>
<text x="530.4" y="401.5" font-size="2.8" text-anchor="middle" fill="#667" >70</text>
<rect x="597.65" y="398.4" width="6.7" height="4.2" fill="#fff" stroke="#8a8a8a" stroke-width="0.5"/>
<text x="601" y="401.5" font-size="2.8" text-anchor="middle" fill="#667" >60</text>
<rect x="657.0" y="349.0" width="6.4" height="4" fill="#fff" stroke="#8a8a8a" stroke-width="0.5"/>
<text x="660.2" y="352.0" font-size="2.8" text-anchor="middle" fill="#667" >50</text>
<text x="553" y="403.8" font-size="3.5" text-anchor="end" fill="#444" >3</text>
<ellipse cx="439.7" cy="292.8" rx="2.3" ry="2.3" fill="#c00000" stroke="#600000" stroke-width="0.7"/>
<ellipse cx="674.5" cy="292.8" rx="2.3" ry="2.3" fill="#c00000" stroke="#600000" stroke-width="0.7"/>
<ellipse cx="674.5" cy="512.4" rx="2.3" ry="2.3" fill="#c00000" stroke="#600000" stroke-width="0.7"/>
<ellipse cx="439.7" cy="512.4" rx="2.3" ry="2.3" fill="#c00000" stroke="#600000" stroke-width="0.7"/>
<ellipse cx="557.2" cy="402.6" rx="2.2" ry="2.2" fill="#c00000" stroke="#600000" stroke-width="0.7"/>
<text x="459.6" y="329.8" font-size="16.5" text-anchor="start" fill="#000" font-weight="bold" stroke="#000" stroke-width="0.9">D</text>
<text x="3.7" y="558" font-size="7.5" text-anchor="start" fill="#333" textLength="87.6" lengthAdjust="spacingAndGlyphs" >Factor Coding: Actual</text>
<text x="3.7" y="567.4" font-size="7.5" text-anchor="start" fill="#111" font-weight="bold" textLength="100" lengthAdjust="spacingAndGlyphs" >Response: Overlay Plot</text>
<text x="22.8" y="576.8" font-size="7.5" text-anchor="start" fill="#333" textLength="47.2" lengthAdjust="spacingAndGlyphs" >Particle size</text>
<text x="22.8" y="586.8" font-size="7.5" text-anchor="start" fill="#333" textLength="51.2" lengthAdjust="spacingAndGlyphs" >Drug release</text>
<ellipse cx="13.6" cy="593.8" rx="5" ry="3.2" fill="#c00000" stroke="#600000" stroke-width="0.7"/>
<text x="24" y="596.4" font-size="7.5" text-anchor="start" fill="#c03030" textLength="55.4" lengthAdjust="spacingAndGlyphs" >Design Points</text>
<text x="3.7" y="605.9" font-size="7.5" text-anchor="start" fill="#111" font-weight="bold" textLength="60.3" lengthAdjust="spacingAndGlyphs" >Actual Factor:</text>
<text x="3.7" y="615.3" font-size="7.5" text-anchor="start" fill="#333" textLength="21.8" lengthAdjust="spacingAndGlyphs" >C = 0</text>
<rect x="181.1" y="571.5" width="444.9" height="291.5" fill="#ffff00"/>
<path d="M613.8 571.5L626 571.5L626 607Z" fill="#dcdcdc" stroke="#444" stroke-width="0.8"/>
<rect x="181.1" y="571.5" width="444.9" height="291.5" fill="none" stroke="#5a5a40" stroke-width="1"/>
<line x1="181.1" y1="863" x2="181.1" y2="869" stroke="#444" stroke-width="1"/>
<text x="181.1" y="880" font-size="7.5" text-anchor="middle" fill="#333" textLength="9.3" lengthAdjust="spacingAndGlyphs" >-1</text>
<line x1="170.1" y1="863" x2="181.1" y2="863" stroke="#444" stroke-width="1"/>
<text x="165.5" y="865.7" font-size="7.5" text-anchor="end" fill="#222" textLength="9.3" lengthAdjust="spacingAndGlyphs" >-1</text>
<line x1="292.3" y1="863" x2="292.3" y2="869" stroke="#444" stroke-width="1"/>
<text x="292.3" y="880" font-size="7.5" text-anchor="middle" fill="#333" textLength="19" lengthAdjust="spacingAndGlyphs" >-0.5</text>
<line x1="170.1" y1="790.1" x2="181.1" y2="790.1" stroke="#444" stroke-width="1"/>
<text x="165.5" y="792.8" font-size="7.5" text-anchor="end" fill="#222" textLength="19" lengthAdjust="spacingAndGlyphs" >-0.5</text>
<line x1="403.5" y1="863" x2="403.5" y2="869" stroke="#444" stroke-width="1"/>
<text x="403.5" y="880" font-size="7.5" text-anchor="middle" fill="#333" textLength="5.5" lengthAdjust="spacingAndGlyphs" >0</text>
<line x1="170.1" y1="717.2" x2="181.1" y2="717.2" stroke="#444" stroke-width="1"/>
<text x="165.5" y="720" font-size="7.5" text-anchor="end" fill="#222" textLength="5.5" lengthAdjust="spacingAndGlyphs" >0</text>
<line x1="514.8" y1="863" x2="514.8" y2="869" stroke="#444" stroke-width="1"/>
<text x="514.8" y="880" font-size="7.5" text-anchor="middle" fill="#333" textLength="14" lengthAdjust="spacingAndGlyphs" >0.5</text>
<line x1="170.1" y1="644.4" x2="181.1" y2="644.4" stroke="#444" stroke-width="1"/>
<text x="165.5" y="647.1" font-size="7.5" text-anchor="end" fill="#222" textLength="14" lengthAdjust="spacingAndGlyphs" >0.5</text>
<line x1="626" y1="863" x2="626" y2="869" stroke="#444" stroke-width="1"/>
<text x="626" y="880" font-size="7.5" text-anchor="middle" fill="#333" textLength="4" lengthAdjust="spacingAndGlyphs" >1</text>
<line x1="170.1" y1="571.5" x2="181.1" y2="571.5" stroke="#444" stroke-width="1"/>
<text x="165.5" y="574.2" font-size="7.5" text-anchor="end" fill="#222" textLength="4" lengthAdjust="spacingAndGlyphs" >1</text>
<text x="402.7" y="901.5" font-size="8.5" text-anchor="middle" fill="#333" textLength="150" lengthAdjust="spacingAndGlyphs" >A: Soya lecithin conc. (mg)</text>
<g transform="translate(113.3,708.2) rotate(-90)">
<text x="0" y="0" font-size="13" text-anchor="middle" fill="#3a3a3a" textLength="93.2" lengthAdjust="spacingAndGlyphs" >B: Cholesterol conc. (mg)</text>
</g>
<text x="403.2" y="566.5" font-size="10" text-anchor="middle" fill="#333" textLength="84.2" lengthAdjust="spacingAndGlyphs" >Overlay Plot</text>
<ellipse cx="181.5" cy="571.5" rx="4.2" ry="2.7" fill="#d40c20" stroke="#500000" stroke-width="1"/>
<ellipse cx="626" cy="571.3" rx="4.0" ry="2.5" fill="#d40c20" stroke="#500000" stroke-width="1"/>
<ellipse cx="626" cy="862.7" rx="3.1" ry="2.4" fill="#d40c20" stroke="#500000" stroke-width="1"/>
<ellipse cx="403.5" cy="717.3" rx="4.1" ry="2.7" fill="#d40c20" stroke="#500000" stroke-width="1"/>
<text x="394.8" y="719.2" font-size="5.5" text-anchor="end" fill="#3a3a10" font-weight="bold" >3</text>
<rect x="181.9" y="825.8" width="78.6" height="26.1" fill="#fff" stroke="#888" stroke-width="0.9"/>
<text x="183.9" y="831.5" font-size="5" text-anchor="start" fill="#222" textLength="37.7" lengthAdjust="spacingAndGlyphs" >Particle size:</text>
<text x="228.5" y="831.5" font-size="5" text-anchor="start" fill="#222" textLength="24.1" lengthAdjust="spacingAndGlyphs" >302.793</text>
<text x="183.9" y="837.7" font-size="5" text-anchor="start" fill="#222" textLength="43.1" lengthAdjust="spacingAndGlyphs" >Drug release :</text>
<text x="233.5" y="837.7" font-size="5" text-anchor="start" fill="#222" textLength="24.1" lengthAdjust="spacingAndGlyphs" >79.4874</text>
<text x="183.9" y="843.9" font-size="5" text-anchor="start" fill="#222" textLength="7.5" lengthAdjust="spacingAndGlyphs" >X1</text>
<text x="196" y="843.9" font-size="5" text-anchor="start" fill="#222" textLength="6" lengthAdjust="spacingAndGlyphs" >-1</text>
<text x="183.9" y="850.1" font-size="5" text-anchor="start" fill="#222" textLength="7.5" lengthAdjust="spacingAndGlyphs" >X2</text>
<text x="196" y="850.1" font-size="5" text-anchor="start" fill="#222" textLength="6" lengthAdjust="spacingAndGlyphs" >-1</text>
<line x1="181.1" y1="863" x2="181.1" y2="870" stroke="#7a1020" stroke-width="1"/>
<ellipse cx="181.29999999999998" cy="863.1" rx="3.6" ry="2.1" fill="#d8c8a0" stroke="#7a0c10" stroke-width="1.7"/>
<text x="197.8" y="605" font-size="19.2" text-anchor="start" fill="#000" font-weight="bold" textLength="11.1" lengthAdjust="spacingAndGlyphs" >E</text>
</svg></body></html>
